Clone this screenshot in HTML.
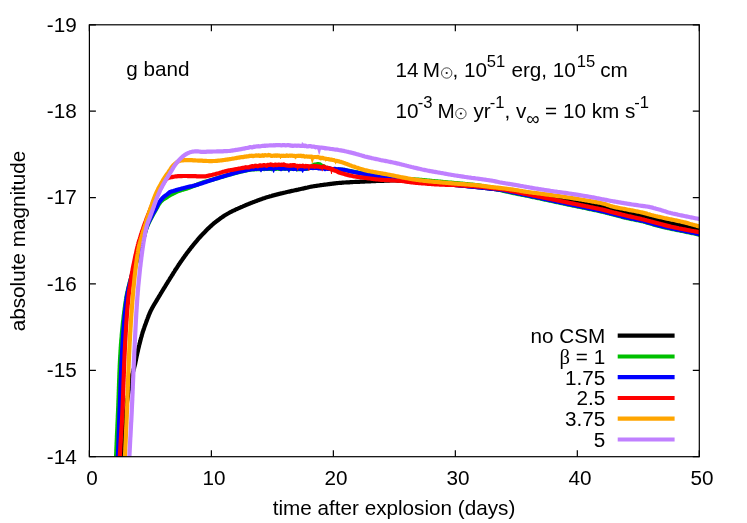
<!DOCTYPE html>
<html><head><meta charset="utf-8"><title>g band light curves</title>
<style>
html,body{margin:0;padding:0;background:#fff;}
body{width:747px;height:523px;overflow:hidden;font-family:"Liberation Sans",sans-serif;}
svg{display:block;will-change:transform;}
</style></head><body>
<svg width="747" height="523" viewBox="0 0 747 523">
<defs><clipPath id="c"><rect x="89.4" y="24.8" width="609.9" height="431.9"/></clipPath></defs>
<rect width="747" height="523" fill="#fff"/>
<g clip-path="url(#c)" fill="none" stroke-width="4.2" stroke-linejoin="round" stroke-linecap="butt">
<path d="M120.4,470.0 L120.5,469.0 L120.6,468.0 L120.7,467.0 L120.8,466.0 L120.9,465.0 L121.1,464.0 L121.2,463.0 L121.3,462.0 L121.4,461.0 L121.5,460.0 L121.6,459.1 L121.7,458.1 L121.8,457.1 L121.9,456.1 L122.0,455.1 L122.1,454.1 L122.2,453.1 L122.3,452.1 L122.4,451.1 L122.5,450.1 L122.6,449.1 L122.7,448.1 L122.8,447.1 L122.9,446.1 L123.0,445.1 L123.1,444.1 L123.2,443.1 L123.3,442.1 L123.4,441.1 L123.4,440.1 L123.5,439.1 L123.6,438.1 L123.7,437.1 L123.8,436.1 L123.9,435.1 L124.0,434.1 L124.1,433.1 L124.2,432.1 L124.3,431.2 L124.4,430.2 L124.5,429.2 L124.6,428.2 L124.7,427.2 L124.8,426.2 L124.9,425.2 L125.0,424.2 L125.0,423.2 L125.1,422.2 L125.2,421.2 L125.3,420.2 L125.4,419.2 L125.5,418.2 L125.6,417.2 L125.6,416.2 L125.7,415.2 L125.8,414.2 L125.9,413.2 L126.0,412.2 L126.1,411.2 L126.2,410.2 L126.3,409.2 L126.4,408.2 L126.5,407.2 L126.6,406.2 L126.7,405.2 L126.8,404.2 L126.9,403.2 L127.0,402.2 L127.1,401.2 L127.3,400.3 L127.4,399.3 L127.5,398.3 L127.7,397.3 L127.8,396.3 L128.0,395.3 L128.1,394.3 L128.3,393.3 L128.5,392.3 L128.6,391.4 L128.8,390.4 L129.0,389.4 L129.2,388.4 L129.4,387.4 L129.6,386.4 L129.8,385.4 L130.0,384.5 L130.2,383.5 L130.4,382.5 L130.6,381.5 L130.8,380.5 L131.0,379.6 L131.2,378.6 L131.5,377.6 L131.7,376.6 L131.9,375.7 L132.2,374.7 L132.4,373.7 L132.7,372.8 L133.0,371.8 L133.3,370.8 L133.5,369.9 L133.8,368.9 L134.1,368.0 L134.3,367.0 L134.6,366.0 L134.8,365.0 L135.1,364.1 L135.3,363.1 L135.5,362.1 L135.7,361.1 L135.9,360.2 L136.1,359.2 L136.3,358.2 L136.5,357.2 L136.7,356.2 L136.9,355.3 L137.1,354.3 L137.3,353.3 L137.5,352.3 L137.8,351.3 L138.0,350.4 L138.2,349.4 L138.4,348.4 L138.7,347.4 L138.9,346.5 L139.1,345.5 L139.4,344.5 L139.6,343.5 L139.9,342.6 L140.1,341.6 L140.4,340.6 L140.6,339.7 L140.9,338.7 L141.1,337.7 L141.4,336.8 L141.7,335.8 L141.9,334.8 L142.2,333.9 L142.5,332.9 L142.8,332.0 L143.1,331.0 L143.4,330.1 L143.8,329.1 L144.1,328.2 L144.4,327.2 L144.7,326.3 L145.1,325.3 L145.4,324.4 L145.8,323.5 L146.1,322.5 L146.4,321.6 L146.8,320.6 L147.1,319.7 L147.5,318.7 L147.8,317.8 L148.2,316.9 L148.6,315.9 L148.9,315.0 L149.3,314.1 L149.7,313.2 L150.1,312.2 L150.5,311.3 L150.9,310.4 L151.4,309.5 L151.8,308.7 L152.3,307.8 L152.8,306.9 L153.3,306.0 L153.8,305.2 L154.3,304.3 L154.8,303.4 L155.4,302.6 L155.9,301.7 L156.4,300.9 L156.9,300.0 L157.4,299.1 L157.9,298.3 L158.4,297.4 L159.0,296.6 L159.5,295.7 L160.0,294.8 L160.5,294.0 L161.0,293.1 L161.5,292.3 L162.0,291.4 L162.6,290.6 L163.1,289.7 L163.6,288.8 L164.1,288.0 L164.7,287.1 L165.2,286.3 L165.7,285.4 L166.2,284.6 L166.7,283.7 L167.3,282.9 L167.8,282.0 L168.3,281.2 L168.9,280.3 L169.4,279.5 L169.9,278.6 L170.4,277.8 L171.0,276.9 L171.5,276.1 L172.0,275.2 L172.6,274.4 L173.1,273.5 L173.6,272.7 L174.2,271.8 L174.7,271.0 L175.2,270.1 L175.8,269.3 L176.3,268.5 L176.9,267.6 L177.4,266.8 L178.0,265.9 L178.5,265.1 L179.1,264.3 L179.6,263.5 L180.2,262.6 L180.8,261.8 L181.3,261.0 L181.9,260.2 L182.5,259.3 L183.1,258.5 L183.6,257.7 L184.2,256.9 L184.8,256.1 L185.4,255.2 L186.0,254.4 L186.6,253.6 L187.2,252.8 L187.8,252.0 L188.4,251.2 L189.0,250.4 L189.6,249.7 L190.2,248.9 L190.8,248.1 L191.4,247.3 L192.1,246.5 L192.7,245.7 L193.3,244.9 L194.0,244.1 L194.6,243.4 L195.2,242.6 L195.9,241.8 L196.5,241.1 L197.2,240.3 L197.8,239.5 L198.5,238.8 L199.1,238.0 L199.8,237.3 L200.5,236.5 L201.1,235.8 L201.8,235.1 L202.5,234.4 L203.2,233.6 L203.9,232.9 L204.6,232.2 L205.3,231.5 L206.0,230.7 L206.7,230.0 L207.4,229.3 L208.1,228.6 L208.9,227.9 L209.6,227.2 L210.3,226.5 L211.1,225.9 L211.8,225.2 L212.6,224.5 L213.3,223.9 L214.1,223.2 L214.8,222.6 L215.6,222.0 L216.4,221.4 L217.2,220.8 L218.0,220.2 L218.8,219.6 L219.6,219.0 L220.4,218.4 L221.2,217.8 L222.1,217.2 L222.9,216.6 L223.7,216.1 L224.6,215.5 L225.4,215.0 L226.3,214.5 L227.1,214.0 L228.0,213.5 L228.9,213.0 L229.7,212.5 L230.6,212.0 L231.5,211.6 L232.4,211.1 L233.3,210.7 L234.2,210.3 L235.1,209.8 L236.0,209.4 L236.9,209.0 L237.9,208.6 L238.8,208.2 L239.7,207.8 L240.6,207.4 L241.5,207.0 L242.5,206.6 L243.4,206.2 L244.3,205.8 L245.2,205.4 L246.1,205.0 L247.1,204.6 L248.0,204.3 L248.9,203.9 L249.8,203.5 L250.8,203.1 L251.7,202.8 L252.6,202.4 L253.6,202.0 L254.5,201.7 L255.4,201.3 L256.4,201.0 L257.3,200.6 L258.3,200.3 L259.2,199.9 L260.1,199.6 L261.1,199.2 L262.0,198.9 L263.0,198.5 L263.9,198.2 L264.9,197.9 L265.8,197.6 L266.8,197.3 L267.7,197.0 L268.7,196.7 L269.6,196.4 L270.6,196.2 L271.6,195.9 L272.5,195.6 L273.5,195.4 L274.5,195.1 L275.4,194.9 L276.4,194.6 L277.4,194.4 L278.3,194.1 L279.3,193.9 L280.3,193.6 L281.3,193.4 L282.2,193.2 L283.2,192.9 L284.2,192.7 L285.2,192.5 L286.1,192.2 L287.1,192.0 L288.1,191.8 L289.1,191.6 L290.0,191.4 L291.0,191.1 L292.0,190.9 L293.0,190.7 L294.0,190.5 L294.9,190.3 L295.9,190.1 L296.9,189.9 L297.9,189.7 L298.8,189.4 L299.8,189.2 L300.8,189.0 L301.8,188.8 L302.8,188.6 L303.7,188.4 L304.7,188.1 L305.7,187.9 L306.7,187.7 L307.6,187.5 L308.6,187.2 L309.6,187.0 L310.6,186.8 L311.6,186.6 L312.5,186.5 L313.5,186.3 L314.5,186.1 L315.5,186.0 L316.5,185.8 L317.5,185.7 L318.5,185.5 L319.5,185.4 L320.4,185.2 L321.4,185.1 L322.4,185.0 L323.4,184.8 L324.4,184.7 L325.4,184.6 L326.4,184.5 L327.4,184.3 L328.4,184.2 L329.4,184.1 L330.4,183.9 L331.4,183.8 L332.4,183.7 L333.4,183.6 L334.4,183.4 L335.4,183.3 L336.3,183.2 L337.3,183.1 L338.3,183.0 L339.3,182.9 L340.3,182.8 L341.3,182.8 L342.3,182.7 L343.3,182.6 L344.3,182.5 L345.3,182.5 L346.3,182.4 L347.3,182.4 L348.3,182.3 L349.3,182.3 L350.3,182.2 L351.3,182.1 L352.3,182.1 L353.3,182.0 L354.3,182.0 L355.3,181.9 L356.3,181.9 L357.3,181.9 L358.3,181.8 L359.3,181.8 L360.3,181.7 L361.3,181.7 L362.3,181.6 L363.3,181.6 L364.3,181.6 L365.3,181.5 L366.3,181.5 L367.3,181.4 L368.3,181.4 L369.3,181.3 L370.3,181.3 L371.3,181.2 L372.3,181.2 L373.3,181.2 L374.3,181.1 L375.3,181.1 L376.3,181.0 L377.3,181.0 L378.3,180.9 L379.3,180.9 L380.3,180.9 L381.3,180.8 L382.3,180.8 L383.3,180.8 L384.3,180.7 L385.3,180.7 L386.3,180.7 L387.3,180.6 L388.3,180.6 L389.3,180.6 L390.3,180.5 L391.3,180.5 L392.3,180.5 L393.3,180.5 L394.3,180.5 L395.3,180.5 L396.3,180.5 L397.3,180.6 L398.3,180.6 L399.3,180.7 L400.3,180.7 L401.3,180.8 L402.3,180.9 L403.3,180.9 L404.3,181.0 L405.3,181.1 L406.3,181.1 L407.3,181.2 L408.3,181.3 L409.3,181.4 L410.3,181.4 L411.3,181.5 L412.3,181.5 L413.3,181.6 L414.3,181.7 L415.3,181.7 L416.3,181.8 L417.3,181.9 L418.3,181.9 L419.3,182.0 L420.3,182.1 L421.3,182.2 L422.3,182.2 L423.3,182.3 L424.3,182.4 L425.3,182.5 L426.3,182.5 L427.3,182.6 L428.3,182.7 L429.3,182.8 L430.3,182.8 L431.3,182.9 L432.3,183.0 L433.3,183.1 L434.3,183.2 L435.3,183.2 L436.3,183.3 L437.3,183.4 L438.3,183.5 L439.3,183.6 L440.3,183.7 L441.3,183.8 L442.3,183.8 L443.3,183.9 L444.3,184.0 L445.3,184.1 L446.3,184.2 L447.3,184.3 L448.3,184.4 L449.3,184.5 L450.3,184.5 L451.2,184.6 L452.2,184.7 L453.2,184.8 L454.2,184.9 L455.2,185.0 L456.2,185.1 L457.2,185.2 L458.2,185.2 L459.2,185.3 L460.2,185.4 L461.2,185.5 L462.2,185.6 L463.2,185.7 L464.2,185.8 L465.2,185.9 L466.2,186.0 L467.2,186.1 L468.2,186.2 L469.2,186.3 L470.2,186.4 L471.2,186.5 L472.2,186.6 L473.2,186.7 L474.2,186.8 L475.2,186.9 L476.2,187.0 L477.2,187.1 L478.2,187.2 L479.2,187.3 L480.1,187.4 L481.1,187.5 L482.1,187.6 L483.1,187.8 L484.1,187.9 L485.1,188.0 L486.1,188.1 L487.1,188.2 L488.1,188.3 L489.1,188.4 L490.1,188.6 L491.1,188.7 L492.1,188.8 L493.1,188.9 L494.1,189.0 L495.1,189.1 L496.1,189.2 L497.1,189.4 L498.0,189.5 L499.0,189.6 L500.0,189.7 L501.0,189.8 L502.0,190.0 L503.0,190.1 L504.0,190.2 L505.0,190.3 L506.0,190.4 L507.0,190.6 L508.0,190.7 L509.0,190.8 L510.0,190.9 L511.0,191.1 L512.0,191.2 L513.0,191.3 L513.9,191.4 L514.9,191.6 L515.9,191.7 L516.9,191.8 L517.9,192.0 L518.9,192.1 L519.9,192.2 L520.9,192.4 L521.9,192.5 L522.9,192.6 L523.9,192.8 L524.9,192.9 L525.9,193.0 L526.8,193.2 L527.8,193.3 L528.8,193.5 L529.8,193.6 L530.8,193.7 L531.8,193.9 L532.8,194.0 L533.8,194.1 L534.8,194.3 L535.8,194.4 L536.8,194.6 L537.8,194.7 L538.7,194.8 L539.7,195.0 L540.7,195.1 L541.7,195.3 L542.7,195.4 L543.7,195.5 L544.7,195.7 L545.7,195.8 L546.7,196.0 L547.7,196.1 L548.6,196.3 L549.6,196.4 L550.6,196.6 L551.6,196.7 L552.6,196.9 L553.6,197.0 L554.6,197.2 L555.6,197.4 L556.6,197.5 L557.6,197.7 L558.5,197.8 L559.5,198.0 L560.5,198.1 L561.5,198.3 L562.5,198.5 L563.5,198.6 L564.5,198.8 L565.5,199.0 L566.4,199.1 L567.4,199.3 L568.4,199.5 L569.4,199.7 L570.4,199.8 L571.4,200.0 L572.4,200.2 L573.3,200.4 L574.3,200.6 L575.3,200.8 L576.3,200.9 L577.3,201.1 L578.3,201.3 L579.2,201.5 L580.2,201.7 L581.2,201.9 L582.2,202.1 L583.2,202.3 L584.1,202.5 L585.1,202.7 L586.1,202.9 L587.1,203.1 L588.1,203.3 L589.0,203.5 L590.0,203.7 L591.0,204.0 L592.0,204.2 L593.0,204.4 L593.9,204.6 L594.9,204.8 L595.9,205.0 L596.9,205.2 L597.8,205.4 L598.8,205.7 L599.8,205.9 L600.8,206.1 L601.7,206.3 L602.7,206.6 L603.7,206.8 L604.7,207.1 L605.6,207.3 L606.6,207.5 L607.6,207.8 L608.6,208.0 L609.5,208.3 L610.5,208.5 L611.5,208.8 L612.4,209.0 L613.4,209.3 L614.4,209.5 L615.3,209.8 L616.3,210.0 L617.3,210.3 L618.2,210.5 L619.2,210.8 L620.2,211.1 L621.1,211.3 L622.1,211.6 L623.1,211.8 L624.1,212.1 L625.0,212.3 L626.0,212.6 L627.0,212.8 L627.9,213.0 L628.9,213.3 L629.9,213.5 L630.9,213.7 L631.9,213.9 L632.8,214.1 L633.8,214.3 L634.8,214.4 L635.8,214.6 L636.8,214.8 L637.8,215.0 L638.7,215.2 L639.7,215.4 L640.7,215.6 L641.7,215.8 L642.7,216.0 L643.6,216.3 L644.6,216.5 L645.6,216.8 L646.5,217.0 L647.5,217.3 L648.5,217.6 L649.4,217.8 L650.4,218.1 L651.4,218.4 L652.3,218.7 L653.3,218.9 L654.2,219.2 L655.2,219.4 L656.2,219.7 L657.2,219.9 L658.1,220.2 L659.1,220.4 L660.1,220.6 L661.0,220.9 L662.0,221.1 L663.0,221.3 L664.0,221.6 L664.9,221.8 L665.9,222.0 L666.9,222.3 L667.9,222.5 L668.8,222.7 L669.8,222.9 L670.8,223.2 L671.8,223.4 L672.8,223.6 L673.7,223.8 L674.7,224.0 L675.7,224.2 L676.7,224.4 L677.6,224.6 L678.6,224.8 L679.6,225.0 L680.6,225.3 L681.6,225.5 L682.5,225.7 L683.5,225.9 L684.5,226.1 L685.5,226.4 L686.4,226.6 L687.4,226.8 L688.4,227.1 L689.4,227.3 L690.3,227.5 L691.3,227.8 L692.3,228.0 L693.2,228.3 L694.2,228.5 L695.2,228.7 L696.2,229.0 L697.1,229.2 L698.1,229.5 L699.1,229.7 L700.1,229.9 L701.0,230.2 L702.0,230.4" stroke="#000000"/>
<path d="M115.6,470.0 L115.6,469.0 L115.7,468.0 L115.7,467.0 L115.7,466.0 L115.8,465.0 L115.8,464.0 L115.8,463.0 L115.9,462.0 L115.9,461.0 L115.9,460.0 L116.0,459.0 L116.0,458.0 L116.1,457.0 L116.1,456.0 L116.1,455.0 L116.2,454.0 L116.2,453.0 L116.3,452.0 L116.3,451.0 L116.3,450.0 L116.4,449.0 L116.4,448.0 L116.5,447.0 L116.5,446.0 L116.6,445.0 L116.6,444.0 L116.6,443.0 L116.7,442.0 L116.7,441.0 L116.8,440.0 L116.8,439.0 L116.9,438.0 L116.9,437.0 L116.9,436.0 L117.0,435.0 L117.0,434.0 L117.1,433.0 L117.1,432.0 L117.2,431.0 L117.2,430.0 L117.3,429.0 L117.3,428.0 L117.4,427.0 L117.4,426.0 L117.4,425.0 L117.5,424.0 L117.5,423.0 L117.6,422.0 L117.6,421.0 L117.7,420.0 L117.7,419.0 L117.8,418.0 L117.8,417.0 L117.8,416.0 L117.9,415.0 L117.9,414.0 L118.0,413.0 L118.0,412.0 L118.1,411.0 L118.1,410.0 L118.1,409.0 L118.2,408.0 L118.2,407.0 L118.3,406.0 L118.3,405.0 L118.3,404.0 L118.4,403.0 L118.4,402.0 L118.4,401.0 L118.5,400.0 L118.5,399.0 L118.6,398.0 L118.6,397.0 L118.6,396.0 L118.7,395.0 L118.7,394.0 L118.7,393.0 L118.8,392.0 L118.8,391.0 L118.8,390.0 L118.9,389.0 L118.9,388.0 L118.9,387.0 L119.0,386.0 L119.0,385.0 L119.0,384.0 L119.1,383.0 L119.1,382.0 L119.1,381.0 L119.2,380.0 L119.2,379.0 L119.3,378.0 L119.3,377.0 L119.3,376.0 L119.4,375.0 L119.4,374.0 L119.4,373.0 L119.5,372.0 L119.5,371.0 L119.6,370.0 L119.6,369.0 L119.7,368.0 L119.7,367.0 L119.7,366.0 L119.8,365.0 L119.8,364.0 L119.9,363.0 L119.9,362.0 L120.0,361.0 L120.0,360.0 L120.1,359.0 L120.1,358.0 L120.2,357.0 L120.2,356.0 L120.3,355.0 L120.4,354.0 L120.4,353.0 L120.5,352.0 L120.5,351.0 L120.6,350.0 L120.7,349.0 L120.7,348.0 L120.8,347.0 L120.9,346.0 L120.9,345.0 L121.0,344.0 L121.1,343.0 L121.2,342.0 L121.2,341.0 L121.3,340.0 L121.4,339.1 L121.5,338.1 L121.6,337.1 L121.7,336.1 L121.7,335.1 L121.8,334.1 L121.9,333.1 L122.0,332.1 L122.1,331.1 L122.2,330.1 L122.3,329.1 L122.4,328.1 L122.5,327.1 L122.6,326.1 L122.7,325.1 L122.8,324.1 L122.9,323.1 L123.0,322.1 L123.1,321.1 L123.3,320.1 L123.4,319.1 L123.5,318.1 L123.6,317.1 L123.7,316.1 L123.8,315.1 L124.0,314.1 L124.1,313.1 L124.2,312.1 L124.3,311.1 L124.5,310.2 L124.6,309.2 L124.7,308.2 L124.9,307.2 L125.0,306.2 L125.1,305.2 L125.3,304.2 L125.4,303.2 L125.6,302.3 L125.7,301.3 L125.9,300.3 L126.0,299.3 L126.2,298.3 L126.3,297.3 L126.5,296.4 L126.7,295.4 L126.9,294.4 L127.1,293.4 L127.3,292.4 L127.5,291.5 L127.8,290.5 L128.0,289.5 L128.2,288.5 L128.5,287.6 L128.7,286.6 L129.0,285.6 L129.2,284.6 L129.5,283.7 L129.7,282.7 L130.0,281.7 L130.3,280.8 L130.5,279.8 L130.8,278.8 L131.1,277.9 L131.4,276.9 L131.6,275.9 L131.9,275.0 L132.2,274.0 L132.5,273.1 L132.8,272.1 L133.1,271.2 L133.4,270.2 L133.7,269.3 L134.0,268.3 L134.4,267.4 L134.7,266.4 L135.1,265.5 L135.4,264.6 L135.8,263.6 L136.1,262.7 L136.5,261.8 L136.8,260.8 L137.2,259.9 L137.5,258.9 L137.9,258.0 L138.2,257.1 L138.5,256.1 L138.9,255.2 L139.2,254.2 L139.5,253.3 L139.9,252.3 L140.2,251.4 L140.5,250.4 L140.8,249.5 L141.0,248.5 L141.3,247.5 L141.6,246.6 L141.8,245.6 L142.1,244.6 L142.3,243.7 L142.6,242.7 L142.8,241.7 L143.1,240.7 L143.3,239.8 L143.5,238.8 L143.8,237.8 L144.0,236.8 L144.3,235.9 L144.5,234.9 L144.8,233.9 L145.1,233.0 L145.3,232.0 L145.6,231.0 L145.9,230.1 L146.2,229.2 L146.5,228.2 L146.9,227.3 L147.2,226.4 L147.6,225.4 L148.0,224.5 L148.4,223.6 L148.8,222.7 L149.3,221.8 L149.7,220.9 L150.2,220.0 L150.7,219.1 L151.1,218.2 L151.6,217.4 L152.1,216.5 L152.6,215.6 L153.0,214.7 L153.5,213.8 L154.0,212.9 L154.5,212.1 L155.0,211.2 L155.5,210.3 L156.0,209.5 L156.5,208.6 L157.0,207.7 L157.5,206.8 L157.9,206.0 L158.4,205.1 L158.9,204.2 L159.5,203.4 L160.1,202.6 L160.7,201.8 L161.4,201.1 L162.1,200.4 L162.8,199.7 L163.7,199.1 L164.5,198.6 L165.4,198.1 L166.2,197.6 L167.1,197.1 L167.9,196.5 L168.8,196.0 L169.6,195.4 L170.5,194.9 L171.4,194.5 L172.3,194.0 L173.2,193.6 L174.1,193.2 L175.0,192.7 L175.8,192.2 L176.7,191.8 L177.6,191.3 L178.6,191.0 L179.5,190.7 L180.5,190.4 L181.4,190.1 L182.4,189.8 L183.4,189.6 L184.3,189.3 L185.3,189.0 L186.2,188.7 L187.2,188.4 L188.1,188.1 L189.1,187.7 L190.0,187.4 L191.0,187.0 L191.9,186.7 L192.8,186.3 L193.8,186.0 L194.7,185.6 L195.6,185.3 L196.6,184.9 L197.5,184.5 L198.4,184.1 L199.4,183.8 L200.3,183.4 L201.2,183.1 L202.2,182.7 L203.1,182.4 L204.1,182.1 L205.0,181.8 L206.0,181.5 L206.9,181.2 L207.9,181.0 L208.9,180.7 L209.8,180.4 L210.8,180.1 L211.7,179.9 L212.7,179.6 L213.7,179.3 L214.6,179.0 L215.6,178.7 L216.5,178.4 L217.5,178.1 L218.5,177.9 L219.4,177.6 L220.4,177.3 L221.3,177.0 L222.3,176.7 L223.3,176.4 L224.2,176.2 L225.2,175.9 L226.1,175.6 L227.1,175.3 L228.1,175.1 L229.0,174.8 L230.0,174.5 L231.0,174.2 L231.9,173.9 L232.9,173.7 L233.8,173.4 L234.8,173.1 L235.8,172.9 L236.7,172.6 L237.7,172.4 L238.7,172.1 L239.7,171.9 L240.6,171.7 L241.6,171.5 L242.6,171.3 L243.6,171.0 L244.6,170.8 L245.5,170.6 L246.5,170.4 L247.5,170.2 L248.5,170.0 L249.5,169.8 L250.5,169.7 L251.5,169.5 L252.4,169.4 L253.4,169.3 L254.4,169.4 L255.4,169.1 L256.4,169.3 L257.4,169.1 L258.4,169.2 L259.4,169.1 L260.4,169.2 L261.4,168.8 L262.4,168.9 L263.4,168.9 L264.4,169.1 L265.4,168.7 L266.4,168.9 L267.4,168.7 L268.4,168.9 L269.4,169.0 L270.4,168.7 L271.4,169.1 L272.4,169.0 L273.4,168.9 L274.4,169.0 L275.4,168.7 L276.4,168.8 L277.4,168.6 L278.4,168.7 L279.4,168.9 L280.4,168.7 L281.4,168.7 L282.4,168.7 L283.4,168.6 L284.4,168.7 L285.4,168.8 L286.4,168.6 L287.4,168.8 L288.4,169.1 L289.4,168.9 L290.4,168.8 L291.4,168.7 L292.4,168.7 L293.4,169.1 L294.4,168.8 L295.4,168.7 L296.4,168.9 L297.4,169.3 L298.4,169.0 L299.4,169.1 L300.4,169.1 L301.5,168.9 L302.5,168.7 L303.5,168.8 L304.5,168.8 L305.5,168.9 L306.5,168.8 L307.4,168.7 L308.3,168.2 L309.2,167.8 L310.1,166.9 L310.9,166.8 L311.8,166.1 L312.7,165.4 L313.5,165.1 L314.4,164.6 L315.4,164.5 L316.4,164.4 L317.4,164.5 L318.4,164.0 L319.4,164.2 L320.3,164.7 L321.2,165.3 L322.1,165.8 L323.0,166.2 L323.9,166.3 L324.7,167.1 L325.6,167.7 L326.6,168.0 L327.5,168.5 L328.4,168.6 L329.4,168.8 L330.4,169.1 L331.4,169.2 L332.4,169.3 L333.4,169.3 L334.4,169.3 L335.4,169.4 L336.4,169.4 L337.4,169.5 L338.4,169.5 L339.4,169.5 L340.4,169.5 L341.4,169.5 L342.4,169.7 L343.4,169.8 L344.4,169.9 L345.3,170.1 L346.3,170.3 L347.3,170.5 L348.3,170.7 L349.3,170.9 L350.3,171.1 L351.3,171.3 L352.2,171.5 L353.2,171.7 L354.2,171.8 L355.2,172.0 L356.2,172.2 L357.2,172.4 L358.1,172.6 L359.1,172.8 L360.1,173.0 L361.1,173.2 L362.1,173.4 L363.0,173.6 L364.0,173.8 L365.0,173.9 L366.0,174.1 L367.0,174.3 L368.0,174.5 L368.9,174.7 L369.9,174.9 L370.9,175.0 L371.9,175.2 L372.9,175.4 L373.9,175.6 L374.9,175.7 L375.8,175.9 L376.8,176.1 L377.8,176.2 L378.8,176.4 L379.8,176.5 L380.8,176.7 L381.8,176.8 L382.8,177.0 L383.8,177.1 L384.7,177.3 L385.7,177.4 L386.7,177.5 L387.7,177.7 L388.7,177.8 L389.7,177.9 L390.7,178.0 L391.7,178.1 L392.7,178.2 L393.7,178.3 L394.7,178.4 L395.7,178.4 L396.7,178.5 L397.7,178.5 L398.7,178.5 L399.7,178.6 L400.7,178.6 L401.7,178.7 L402.7,178.7 L403.7,178.8 L404.7,178.8 L405.7,178.9 L406.7,178.9 L407.7,179.0 L408.7,179.0 L409.7,179.1 L410.7,179.1 L411.7,179.2 L412.7,179.3 L413.7,179.3 L414.7,179.4 L415.7,179.5 L416.7,179.5 L417.7,179.6 L418.7,179.7 L419.7,179.8 L420.7,179.9 L421.7,179.9 L422.6,180.0 L423.6,180.1 L424.6,180.2 L425.6,180.3 L426.6,180.4 L427.6,180.5 L428.6,180.6 L429.6,180.7 L430.6,180.8 L431.6,180.9 L432.6,181.0 L433.6,181.1 L434.6,181.2 L435.6,181.3 L436.6,181.4 L437.6,181.4 L438.6,181.5 L439.6,181.6 L440.6,181.7 L441.6,181.8 L442.6,181.9 L443.6,182.0 L444.6,182.1 L445.6,182.2 L446.6,182.3 L447.6,182.4 L448.6,182.5 L449.5,182.5 L450.5,182.6 L451.5,182.7 L452.5,182.8 L453.5,182.9 L454.5,183.0 L455.5,183.1 L456.5,183.2 L457.5,183.2 L458.5,183.3 L459.5,183.4 L460.5,183.5 L461.5,183.6 L462.5,183.7 L463.5,183.8 L464.5,183.9 L465.5,184.0 L466.5,184.1 L467.5,184.2 L468.5,184.3 L469.5,184.4 L470.5,184.5 L471.5,184.6 L472.5,184.7 L473.5,184.8 L474.5,184.9 L475.4,185.0 L476.4,185.2 L477.4,185.3 L478.4,185.4 L479.4,185.6 L480.4,185.7 L481.4,185.9 L482.4,186.0 L483.4,186.2 L484.3,186.4 L485.3,186.6 L486.3,186.8 L487.3,187.0 L488.3,187.2 L489.2,187.4 L490.2,187.6 L491.2,187.9 L492.2,188.1 L493.1,188.3 L494.1,188.6 L495.1,188.8 L496.1,189.0 L497.0,189.3 L498.0,189.5 L499.0,189.8 L499.9,190.0 L500.9,190.2 L501.9,190.4 L502.9,190.7 L503.8,190.9 L504.8,191.1 L505.8,191.4 L506.8,191.6 L507.7,191.8 L508.7,192.0 L509.7,192.3 L510.7,192.5 L511.6,192.7 L512.6,192.9 L513.6,193.1 L514.6,193.3 L515.6,193.5 L516.5,193.7 L517.5,193.9 L518.5,194.1 L519.5,194.3 L520.5,194.5 L521.4,194.7 L522.4,194.9 L523.4,195.0 L524.4,195.2 L525.4,195.4 L526.4,195.6 L527.3,195.8 L528.3,196.0 L529.3,196.2 L530.3,196.4 L531.3,196.7 L532.2,196.9 L533.2,197.1 L534.2,197.3 L535.2,197.5 L536.1,197.7 L537.1,197.9 L538.1,198.1 L539.1,198.3 L540.1,198.5 L541.0,198.7 L542.0,199.0 L543.0,199.2 L544.0,199.4 L545.0,199.6 L545.9,199.8 L546.9,200.0 L547.9,200.2 L548.9,200.4 L549.8,200.6 L550.8,200.8 L551.8,201.0 L552.8,201.3 L553.8,201.5 L554.7,201.7 L555.7,201.9 L556.7,202.1 L557.7,202.3 L558.7,202.5 L559.6,202.7 L560.6,202.9 L561.6,203.1 L562.6,203.3 L563.5,203.6 L564.5,203.8 L565.5,204.0 L566.5,204.2 L567.5,204.4 L568.4,204.6 L569.4,204.8 L570.4,205.0 L571.4,205.2 L572.4,205.4 L573.3,205.6 L574.3,205.8 L575.3,206.0 L576.3,206.2 L577.3,206.4 L578.2,206.6 L579.2,206.8 L580.2,207.0 L581.2,207.2 L582.2,207.4 L583.1,207.6 L584.1,207.8 L585.1,208.0 L586.1,208.2 L587.1,208.4 L588.0,208.7 L589.0,208.9 L590.0,209.1 L591.0,209.3 L591.9,209.5 L592.9,209.7 L593.9,209.9 L594.9,210.1 L595.9,210.3 L596.8,210.5 L597.8,210.7 L598.8,210.9 L599.8,211.1 L600.7,211.4 L601.7,211.6 L602.7,211.8 L603.7,212.1 L604.6,212.3 L605.6,212.6 L606.6,212.8 L607.5,213.1 L608.5,213.3 L609.5,213.6 L610.4,213.8 L611.4,214.1 L612.4,214.3 L613.4,214.6 L614.3,214.8 L615.3,215.1 L616.3,215.3 L617.2,215.6 L618.2,215.8 L619.2,216.1 L620.1,216.3 L621.1,216.6 L622.1,216.9 L623.0,217.1 L624.0,217.4 L625.0,217.6 L626.0,217.8 L626.9,218.1 L627.9,218.3 L628.9,218.5 L629.8,218.7 L630.8,218.9 L631.8,219.1 L632.8,219.3 L633.8,219.5 L634.8,219.7 L635.7,219.9 L636.7,220.1 L637.7,220.3 L638.7,220.5 L639.7,220.7 L640.6,220.9 L641.6,221.1 L642.6,221.3 L643.6,221.6 L644.5,221.8 L645.5,222.1 L646.4,222.4 L647.4,222.7 L648.4,223.0 L649.3,223.2 L650.3,223.5 L651.2,223.8 L652.2,224.1 L653.2,224.4 L654.1,224.7 L655.1,224.9 L656.1,225.2 L657.0,225.5 L658.0,225.7 L659.0,226.0 L659.9,226.2 L660.9,226.4 L661.9,226.7 L662.8,226.9 L663.8,227.2 L664.8,227.4 L665.8,227.6 L666.7,227.8 L667.7,228.1 L668.7,228.3 L669.7,228.5 L670.6,228.7 L671.6,228.9 L672.6,229.1 L673.6,229.3 L674.6,229.5 L675.5,229.7 L676.5,229.9 L677.5,230.1 L678.5,230.3 L679.5,230.5 L680.5,230.7 L681.4,230.9 L682.4,231.0 L683.4,231.2 L684.4,231.4 L685.4,231.6 L686.3,231.9 L687.3,232.1 L688.3,232.3 L689.3,232.5 L690.3,232.7 L691.2,232.9 L692.2,233.1 L693.2,233.3 L694.2,233.5 L695.2,233.7 L696.1,233.9 L697.1,234.1 L698.1,234.4 L699.1,234.6 L700.0,234.8 L701.0,235.0 L702.0,235.2" stroke="#00c000"/>
<path d="M117.3,470.0 L117.3,469.0 L117.4,468.0 L117.4,467.0 L117.5,466.0 L117.5,465.0 L117.6,464.0 L117.6,463.0 L117.6,462.0 L117.7,461.0 L117.7,460.0 L117.8,459.0 L117.8,458.0 L117.9,457.0 L117.9,456.0 L117.9,455.0 L118.0,454.0 L118.0,453.0 L118.1,452.0 L118.1,451.0 L118.1,450.0 L118.2,449.0 L118.2,448.0 L118.2,447.0 L118.3,446.0 L118.3,445.0 L118.4,444.0 L118.4,443.0 L118.4,442.0 L118.5,441.0 L118.5,440.0 L118.5,439.0 L118.6,438.0 L118.6,437.0 L118.6,436.0 L118.7,435.0 L118.7,434.0 L118.8,433.0 L118.8,432.0 L118.8,431.0 L118.9,430.0 L118.9,429.0 L118.9,428.0 L119.0,427.0 L119.0,426.0 L119.0,425.0 L119.1,424.0 L119.1,423.0 L119.1,422.0 L119.2,421.0 L119.2,420.0 L119.3,419.0 L119.3,418.0 L119.3,417.0 L119.4,416.0 L119.4,415.0 L119.4,414.0 L119.5,413.0 L119.5,412.0 L119.6,411.0 L119.6,410.0 L119.6,409.0 L119.7,408.0 L119.7,407.0 L119.8,406.0 L119.8,405.0 L119.8,404.0 L119.9,403.0 L119.9,402.0 L119.9,401.0 L120.0,400.0 L120.0,399.0 L120.1,398.0 L120.1,397.0 L120.1,396.0 L120.2,395.0 L120.2,394.0 L120.2,393.0 L120.3,392.0 L120.3,391.0 L120.4,390.0 L120.4,389.0 L120.4,388.0 L120.5,387.0 L120.5,386.0 L120.5,385.0 L120.6,384.0 L120.6,383.0 L120.7,382.0 L120.7,381.0 L120.7,380.0 L120.8,379.0 L120.8,378.0 L120.9,377.0 L120.9,376.0 L120.9,375.0 L121.0,374.0 L121.0,373.0 L121.1,372.0 L121.1,371.0 L121.2,370.0 L121.2,369.0 L121.2,368.0 L121.3,367.0 L121.3,366.0 L121.4,365.0 L121.4,364.0 L121.5,363.0 L121.5,362.0 L121.6,361.0 L121.6,360.0 L121.7,359.0 L121.7,358.0 L121.8,357.0 L121.8,356.0 L121.9,355.0 L122.0,354.0 L122.0,353.0 L122.1,352.0 L122.1,351.0 L122.2,350.0 L122.2,349.0 L122.3,348.0 L122.4,347.0 L122.4,346.0 L122.5,345.0 L122.5,344.0 L122.6,343.0 L122.7,342.0 L122.7,341.0 L122.8,340.0 L122.8,339.0 L122.9,338.0 L123.0,337.0 L123.0,336.0 L123.1,335.0 L123.2,334.0 L123.3,333.0 L123.3,332.0 L123.4,331.0 L123.5,330.0 L123.5,329.0 L123.6,328.0 L123.7,327.0 L123.8,326.0 L123.9,325.0 L123.9,324.0 L124.0,323.0 L124.1,322.0 L124.2,321.0 L124.3,320.0 L124.4,319.0 L124.5,318.0 L124.5,317.0 L124.6,316.0 L124.7,315.0 L124.8,314.0 L124.9,313.1 L125.0,312.1 L125.1,311.1 L125.2,310.1 L125.3,309.1 L125.4,308.1 L125.6,307.1 L125.7,306.1 L125.8,305.1 L125.9,304.1 L126.0,303.1 L126.1,302.1 L126.3,301.2 L126.4,300.2 L126.5,299.2 L126.6,298.2 L126.8,297.2 L127.0,296.2 L127.1,295.2 L127.3,294.3 L127.5,293.3 L127.7,292.3 L127.9,291.3 L128.1,290.3 L128.3,289.3 L128.5,288.4 L128.7,287.4 L129.0,286.4 L129.2,285.4 L129.4,284.5 L129.7,283.5 L129.9,282.5 L130.2,281.5 L130.4,280.6 L130.7,279.6 L130.9,278.6 L131.2,277.7 L131.4,276.7 L131.7,275.7 L132.0,274.8 L132.2,273.8 L132.5,272.9 L132.8,271.9 L133.1,271.0 L133.4,270.0 L133.7,269.1 L134.1,268.1 L134.4,267.2 L134.8,266.2 L135.1,265.3 L135.5,264.3 L135.8,263.4 L136.2,262.5 L136.5,261.5 L136.9,260.6 L137.2,259.7 L137.6,258.7 L137.9,257.8 L138.3,256.8 L138.6,255.9 L139.0,255.0 L139.3,254.0 L139.6,253.1 L139.9,252.1 L140.2,251.2 L140.5,250.2 L140.8,249.2 L141.1,248.3 L141.4,247.3 L141.6,246.4 L141.9,245.4 L142.1,244.4 L142.4,243.4 L142.6,242.5 L142.8,241.5 L143.0,240.5 L143.3,239.5 L143.5,238.5 L143.7,237.6 L144.0,236.6 L144.2,235.6 L144.5,234.6 L144.7,233.7 L145.0,232.7 L145.2,231.7 L145.5,230.8 L145.8,229.8 L146.1,228.9 L146.4,227.9 L146.7,227.0 L147.0,226.1 L147.4,225.1 L147.8,224.2 L148.2,223.3 L148.6,222.4 L149.0,221.5 L149.4,220.6 L149.9,219.7 L150.3,218.8 L150.8,217.9 L151.3,217.0 L151.7,216.1 L152.2,215.2 L152.6,214.3 L153.1,213.4 L153.6,212.6 L154.1,211.7 L154.6,210.8 L155.1,209.9 L155.6,209.1 L156.1,208.2 L156.5,207.3 L157.0,206.4 L157.4,205.5 L157.9,204.6 L158.3,203.7 L158.8,202.9 L159.4,202.0 L160.0,201.2 L160.6,200.4 L161.2,199.7 L161.9,198.9 L162.5,198.1 L163.2,197.4 L163.9,196.7 L164.7,196.1 L165.5,195.5 L166.4,195.0 L167.2,194.4 L168.0,193.8 L168.7,193.1 L169.5,192.4 L170.3,191.9 L171.2,191.6 L172.2,191.2 L173.2,191.0 L174.1,190.7 L175.1,190.4 L176.1,190.1 L177.0,189.9 L178.0,189.6 L178.9,189.3 L179.9,189.1 L180.9,188.8 L181.8,188.5 L182.8,188.2 L183.8,188.0 L184.7,187.7 L185.7,187.5 L186.7,187.2 L187.6,187.0 L188.6,186.8 L189.6,186.6 L190.6,186.4 L191.6,186.2 L192.5,186.0 L193.5,185.7 L194.5,185.5 L195.4,185.2 L196.4,184.9 L197.4,184.7 L198.3,184.4 L199.3,184.1 L200.2,183.8 L201.2,183.5 L202.1,183.2 L203.1,182.8 L204.0,182.5 L205.0,182.2 L205.9,181.9 L206.9,181.6 L207.8,181.3 L208.8,180.9 L209.7,180.6 L210.7,180.3 L211.6,180.0 L212.6,179.7 L213.5,179.4 L214.5,179.1 L215.4,178.8 L216.4,178.5 L217.4,178.2 L218.3,177.9 L219.3,177.6 L220.2,177.3 L221.2,177.0 L222.1,176.7 L223.1,176.4 L224.1,176.1 L225.0,175.8 L226.0,175.6 L226.9,175.3 L227.9,175.0 L228.9,174.7 L229.8,174.4 L230.8,174.1 L231.7,173.9 L232.7,173.6 L233.7,173.3 L234.6,173.0 L235.6,172.8 L236.6,172.5 L237.5,172.2 L238.5,172.0 L239.5,171.8 L240.4,171.5 L241.4,171.3 L242.4,171.1 L243.4,170.9 L244.3,170.6 L245.3,170.4 L246.3,170.2 L247.3,170.0 L248.3,169.8 L249.3,169.6 L250.2,169.4 L251.2,169.3 L252.2,169.1 L253.2,169.2 L254.2,168.9 L255.2,168.9 L256.2,169.0 L257.2,168.7 L258.2,168.6 L259.2,168.6 L260.2,168.8 L261.2,169.2 L262.2,168.6 L263.2,168.3 L264.2,168.7 L265.2,168.4 L266.2,168.5 L267.2,168.8 L268.2,168.2 L269.2,168.5 L270.2,168.2 L271.2,168.4 L272.2,168.5 L273.2,168.1 L274.2,168.3 L275.2,168.3 L276.2,168.1 L277.2,168.0 L278.2,167.9 L279.2,168.3 L280.2,168.2 L281.2,169.0 L282.2,167.6 L283.2,168.3 L284.2,168.4 L285.2,168.7 L286.2,168.5 L287.2,168.1 L288.2,168.4 L289.2,168.5 L290.2,168.3 L291.2,168.6 L292.2,167.9 L293.2,169.0 L294.2,168.9 L295.2,168.4 L296.2,168.7 L297.2,168.6 L298.2,168.4 L299.2,168.7 L300.2,169.0 L301.2,168.6 L302.2,168.6 L303.2,168.6 L304.2,168.7 L305.2,168.9 L306.2,168.2 L307.2,168.5 L308.2,168.3 L309.2,167.6 L310.2,168.0 L311.2,168.0 L312.2,168.0 L313.2,168.1 L314.2,167.4 L315.2,168.0 L316.2,167.9 L317.2,167.7 L318.2,168.3 L319.2,168.4 L320.2,168.1 L321.2,168.6 L322.2,168.3 L323.2,168.5 L324.2,168.2 L325.2,169.1 L326.2,167.9 L327.2,168.7 L328.2,169.0 L329.2,168.2 L330.2,168.8 L331.2,168.9 L332.2,169.1 L333.2,169.3 L334.2,168.9 L335.2,168.8 L336.2,169.3 L337.2,169.4 L338.2,169.2 L339.2,169.3 L340.2,169.4 L341.2,169.5 L342.2,169.6 L343.1,169.8 L344.1,169.9 L345.1,170.1 L346.1,170.3 L347.1,170.5 L348.1,170.7 L349.0,171.0 L350.0,171.2 L351.0,171.4 L352.0,171.6 L353.0,171.8 L353.9,172.0 L354.9,172.2 L355.9,172.4 L356.9,172.6 L357.9,172.8 L358.8,173.0 L359.8,173.2 L360.8,173.4 L361.8,173.6 L362.8,173.8 L363.8,174.0 L364.7,174.2 L365.7,174.4 L366.7,174.6 L367.7,174.8 L368.7,175.0 L369.6,175.1 L370.6,175.3 L371.6,175.5 L372.6,175.7 L373.6,175.9 L374.6,176.0 L375.6,176.2 L376.5,176.4 L377.5,176.5 L378.5,176.7 L379.5,176.9 L380.5,177.0 L381.5,177.2 L382.5,177.3 L383.5,177.5 L384.4,177.6 L385.4,177.8 L386.4,177.9 L387.4,178.1 L388.4,178.2 L389.4,178.3 L390.4,178.5 L391.4,178.6 L392.4,178.7 L393.4,178.8 L394.4,178.9 L395.4,179.0 L396.4,179.1 L397.4,179.2 L398.3,179.3 L399.3,179.4 L400.3,179.5 L401.3,179.6 L402.3,179.7 L403.3,179.8 L404.3,179.9 L405.3,180.0 L406.3,180.1 L407.3,180.2 L408.3,180.3 L409.3,180.4 L410.3,180.5 L411.3,180.6 L412.3,180.8 L413.3,180.9 L414.3,181.0 L415.3,181.1 L416.3,181.2 L417.3,181.3 L418.3,181.4 L419.3,181.5 L420.2,181.6 L421.2,181.7 L422.2,181.8 L423.2,181.9 L424.2,182.0 L425.2,182.1 L426.2,182.2 L427.2,182.3 L428.2,182.4 L429.2,182.5 L430.2,182.6 L431.2,182.7 L432.2,182.8 L433.2,182.9 L434.2,183.0 L435.2,183.0 L436.2,183.1 L437.2,183.2 L438.2,183.3 L439.2,183.4 L440.2,183.5 L441.2,183.6 L442.2,183.7 L443.2,183.8 L444.1,183.9 L445.1,184.0 L446.1,184.1 L447.1,184.2 L448.1,184.3 L449.1,184.4 L450.1,184.5 L451.1,184.6 L452.1,184.7 L453.1,184.8 L454.1,184.9 L455.1,185.0 L456.1,185.1 L457.1,185.2 L458.1,185.3 L459.1,185.4 L460.1,185.5 L461.1,185.6 L462.1,185.7 L463.1,185.8 L464.1,185.9 L465.1,186.0 L466.1,186.1 L467.0,186.2 L468.0,186.3 L469.0,186.4 L470.0,186.5 L471.0,186.6 L472.0,186.7 L473.0,186.8 L474.0,186.9 L475.0,187.0 L476.0,187.1 L477.0,187.2 L478.0,187.3 L479.0,187.4 L480.0,187.5 L481.0,187.6 L482.0,187.7 L483.0,187.8 L484.0,187.9 L485.0,188.0 L486.0,188.1 L487.0,188.2 L488.0,188.3 L489.0,188.4 L490.0,188.5 L490.9,188.6 L491.9,188.7 L492.9,188.8 L493.9,189.0 L494.9,189.1 L495.9,189.2 L496.9,189.3 L497.9,189.4 L498.9,189.6 L499.9,189.7 L500.9,189.9 L501.9,190.0 L502.8,190.2 L503.8,190.4 L504.8,190.6 L505.8,190.8 L506.8,191.0 L507.7,191.2 L508.7,191.4 L509.7,191.6 L510.7,191.9 L511.7,192.1 L512.6,192.3 L513.6,192.5 L514.6,192.7 L515.6,192.9 L516.6,193.1 L517.5,193.3 L518.5,193.5 L519.5,193.7 L520.5,193.9 L521.5,194.1 L522.4,194.3 L523.4,194.5 L524.4,194.7 L525.4,194.9 L526.3,195.1 L527.3,195.3 L528.3,195.5 L529.3,195.7 L530.3,196.0 L531.2,196.2 L532.2,196.4 L533.2,196.6 L534.2,196.8 L535.2,197.0 L536.1,197.2 L537.1,197.4 L538.1,197.6 L539.1,197.8 L540.1,198.0 L541.0,198.2 L542.0,198.5 L543.0,198.7 L544.0,198.9 L544.9,199.1 L545.9,199.3 L546.9,199.5 L547.9,199.7 L548.9,199.9 L549.8,200.1 L550.8,200.3 L551.8,200.5 L552.8,200.8 L553.7,201.0 L554.7,201.2 L555.7,201.4 L556.7,201.6 L557.7,201.8 L558.6,202.0 L559.6,202.2 L560.6,202.4 L561.6,202.6 L562.6,202.8 L563.5,203.0 L564.5,203.3 L565.5,203.5 L566.5,203.7 L567.5,203.9 L568.4,204.1 L569.4,204.3 L570.4,204.5 L571.4,204.7 L572.4,204.9 L573.3,205.1 L574.3,205.3 L575.3,205.5 L576.3,205.7 L577.3,205.9 L578.2,206.1 L579.2,206.3 L580.2,206.5 L581.2,206.7 L582.2,206.9 L583.1,207.1 L584.1,207.3 L585.1,207.5 L586.1,207.7 L587.0,207.9 L588.0,208.2 L589.0,208.4 L590.0,208.6 L591.0,208.8 L591.9,209.0 L592.9,209.2 L593.9,209.4 L594.9,209.6 L595.9,209.8 L596.8,210.0 L597.8,210.2 L598.8,210.4 L599.8,210.6 L600.7,210.9 L601.7,211.1 L602.7,211.3 L603.7,211.6 L604.6,211.8 L605.6,212.1 L606.6,212.3 L607.5,212.6 L608.5,212.8 L609.5,213.1 L610.4,213.3 L611.4,213.6 L612.4,213.8 L613.3,214.1 L614.3,214.3 L615.3,214.6 L616.3,214.8 L617.2,215.1 L618.2,215.3 L619.2,215.6 L620.1,215.8 L621.1,216.1 L622.1,216.4 L623.0,216.6 L624.0,216.9 L625.0,217.1 L625.9,217.3 L626.9,217.6 L627.9,217.8 L628.9,218.0 L629.8,218.2 L630.8,218.4 L631.8,218.6 L632.8,218.8 L633.8,219.0 L634.8,219.2 L635.7,219.4 L636.7,219.6 L637.7,219.8 L638.7,220.0 L639.7,220.2 L640.6,220.4 L641.6,220.6 L642.6,220.8 L643.6,221.1 L644.5,221.3 L645.5,221.6 L646.4,221.9 L647.4,222.2 L648.4,222.5 L649.3,222.7 L650.3,223.0 L651.2,223.3 L652.2,223.6 L653.2,223.9 L654.1,224.2 L655.1,224.4 L656.1,224.7 L657.0,225.0 L658.0,225.2 L659.0,225.5 L659.9,225.7 L660.9,225.9 L661.9,226.2 L662.8,226.4 L663.8,226.6 L664.8,226.9 L665.8,227.1 L666.7,227.3 L667.7,227.6 L668.7,227.8 L669.7,228.0 L670.6,228.2 L671.6,228.4 L672.6,228.6 L673.6,228.8 L674.6,229.0 L675.5,229.2 L676.5,229.4 L677.5,229.6 L678.5,229.8 L679.5,230.0 L680.5,230.2 L681.4,230.4 L682.4,230.5 L683.4,230.7 L684.4,230.9 L685.4,231.1 L686.3,231.4 L687.3,231.6 L688.3,231.8 L689.3,232.0 L690.3,232.2 L691.2,232.4 L692.2,232.6 L693.2,232.8 L694.2,233.0 L695.2,233.2 L696.1,233.4 L697.1,233.6 L698.1,233.9 L699.1,234.1 L700.0,234.3 L701.0,234.5 L702.0,234.7" stroke="#0000ff"/>
<path d="M259.5,169.3 L262.5,169.3 L261.4,172.2 L260.6,172.2 Z" fill="#0000ff" stroke="none"/>
<path d="M271.9,169.3 L275.3,169.3 L274.0,172.8 L273.2,172.8 Z" fill="#0000ff" stroke="none"/>
<path d="M287.2,169.3 L290.6,169.3 L289.3,172.6 L288.5,172.6 Z" fill="#0000ff" stroke="none"/>
<path d="M300.6,169.3 L304.6,169.3 L303.0,172.8 L302.2,172.8 Z" fill="#0000ff" stroke="none"/>
<path d="M295.3,169.3 L297.7,169.3 L296.9,171.6 L296.1,171.6 Z" fill="#0000ff" stroke="none"/>
<path d="M119.3,470.0 L119.3,469.0 L119.4,468.0 L119.4,467.0 L119.5,466.0 L119.5,465.0 L119.5,464.0 L119.6,463.0 L119.6,462.0 L119.7,461.0 L119.7,460.0 L119.8,459.0 L119.8,458.0 L119.9,457.0 L119.9,456.0 L119.9,455.0 L120.0,454.0 L120.0,453.0 L120.1,452.0 L120.2,451.0 L120.2,450.0 L120.3,449.0 L120.3,448.0 L120.4,447.0 L120.4,446.0 L120.5,445.0 L120.5,444.0 L120.6,443.0 L120.7,442.0 L120.7,441.0 L120.8,440.0 L120.8,439.0 L120.9,438.0 L121.0,437.0 L121.0,436.0 L121.1,435.0 L121.1,434.0 L121.2,433.0 L121.3,432.0 L121.3,431.0 L121.4,430.0 L121.5,429.0 L121.5,428.0 L121.6,427.0 L121.6,426.0 L121.7,425.0 L121.8,424.0 L121.8,423.1 L121.9,422.1 L121.9,421.1 L122.0,420.1 L122.0,419.1 L122.1,418.1 L122.1,417.1 L122.2,416.1 L122.3,415.1 L122.3,414.1 L122.4,413.1 L122.4,412.1 L122.5,411.1 L122.5,410.1 L122.5,409.1 L122.6,408.1 L122.6,407.1 L122.7,406.1 L122.7,405.1 L122.8,404.1 L122.8,403.1 L122.8,402.1 L122.9,401.1 L122.9,400.1 L123.0,399.1 L123.0,398.1 L123.0,397.1 L123.1,396.1 L123.1,395.1 L123.1,394.1 L123.2,393.1 L123.2,392.1 L123.2,391.1 L123.3,390.1 L123.3,389.1 L123.3,388.1 L123.4,387.1 L123.4,386.1 L123.4,385.1 L123.5,384.1 L123.5,383.1 L123.5,382.1 L123.6,381.1 L123.6,380.1 L123.6,379.1 L123.7,378.1 L123.7,377.1 L123.8,376.1 L123.8,375.1 L123.8,374.1 L123.9,373.1 L123.9,372.1 L123.9,371.1 L124.0,370.1 L124.0,369.1 L124.0,368.1 L124.1,367.1 L124.1,366.1 L124.2,365.1 L124.2,364.1 L124.2,363.1 L124.3,362.1 L124.3,361.1 L124.4,360.1 L124.4,359.1 L124.5,358.1 L124.5,357.1 L124.5,356.1 L124.6,355.1 L124.6,354.1 L124.7,353.1 L124.7,352.1 L124.8,351.1 L124.8,350.1 L124.9,349.1 L124.9,348.1 L125.0,347.1 L125.0,346.1 L125.1,345.1 L125.1,344.1 L125.2,343.1 L125.2,342.1 L125.3,341.1 L125.4,340.1 L125.4,339.1 L125.5,338.1 L125.5,337.1 L125.6,336.1 L125.6,335.1 L125.7,334.1 L125.7,333.1 L125.8,332.1 L125.9,331.1 L125.9,330.1 L126.0,329.1 L126.0,328.1 L126.1,327.1 L126.2,326.1 L126.2,325.1 L126.3,324.1 L126.4,323.1 L126.4,322.1 L126.5,321.1 L126.6,320.1 L126.6,319.1 L126.7,318.1 L126.8,317.1 L126.8,316.1 L126.9,315.1 L127.0,314.1 L127.1,313.1 L127.2,312.1 L127.2,311.1 L127.3,310.1 L127.4,309.1 L127.5,308.1 L127.6,307.1 L127.6,306.1 L127.7,305.1 L127.8,304.2 L127.9,303.2 L128.0,302.2 L128.1,301.2 L128.2,300.2 L128.3,299.2 L128.4,298.2 L128.5,297.2 L128.6,296.2 L128.7,295.2 L128.8,294.2 L128.9,293.2 L129.0,292.2 L129.2,291.2 L129.3,290.3 L129.4,289.3 L129.6,288.3 L129.7,287.3 L129.8,286.3 L130.0,285.3 L130.1,284.3 L130.3,283.3 L130.4,282.3 L130.6,281.3 L130.7,280.3 L130.9,279.3 L131.1,278.4 L131.2,277.4 L131.4,276.4 L131.6,275.4 L131.7,274.4 L131.9,273.4 L132.1,272.4 L132.3,271.4 L132.5,270.4 L132.6,269.5 L132.8,268.5 L133.0,267.5 L133.2,266.5 L133.4,265.5 L133.6,264.5 L133.8,263.6 L134.0,262.6 L134.2,261.6 L134.4,260.6 L134.6,259.6 L134.8,258.7 L135.0,257.7 L135.2,256.7 L135.4,255.7 L135.6,254.7 L135.9,253.8 L136.1,252.8 L136.3,251.8 L136.5,250.9 L136.7,249.9 L137.0,248.9 L137.2,247.9 L137.4,247.0 L137.7,246.0 L137.9,245.0 L138.2,244.1 L138.5,243.1 L138.7,242.2 L139.0,241.2 L139.3,240.2 L139.6,239.3 L139.9,238.3 L140.2,237.4 L140.5,236.4 L140.8,235.4 L141.1,234.5 L141.4,233.5 L141.7,232.6 L142.0,231.6 L142.4,230.7 L142.7,229.7 L143.0,228.8 L143.3,227.8 L143.6,226.9 L144.0,225.9 L144.3,225.0 L144.6,224.1 L145.0,223.1 L145.3,222.2 L145.7,221.2 L146.0,220.3 L146.4,219.4 L146.7,218.4 L147.1,217.5 L147.5,216.6 L147.8,215.6 L148.2,214.7 L148.6,213.8 L149.0,212.9 L149.3,211.9 L149.7,211.0 L150.1,210.1 L150.4,209.1 L150.8,208.2 L151.2,207.3 L151.6,206.4 L152.0,205.4 L152.3,204.5 L152.7,203.6 L153.1,202.7 L153.6,201.8 L154.0,200.9 L154.4,200.0 L154.8,199.0 L155.2,198.1 L155.7,197.2 L156.1,196.3 L156.6,195.5 L157.0,194.6 L157.5,193.7 L157.9,192.8 L158.4,191.9 L158.9,191.0 L159.3,190.1 L159.8,189.2 L160.3,188.4 L160.8,187.5 L161.3,186.6 L161.8,185.8 L162.3,184.9 L162.8,184.0 L163.3,183.2 L163.8,182.3 L164.4,181.5 L165.0,180.6 L165.6,179.8 L166.3,179.1 L167.0,178.6 L168.0,178.1 L168.9,177.7 L169.9,177.5 L170.8,177.2 L171.8,177.1 L172.8,176.9 L173.8,176.7 L174.8,176.5 L175.8,176.4 L176.8,176.3 L177.8,176.2 L178.8,176.2 L179.8,176.1 L180.8,176.1 L181.8,176.1 L182.8,176.0 L183.8,176.0 L184.8,176.0 L185.8,176.0 L186.8,176.0 L187.8,176.1 L188.8,176.1 L189.8,176.1 L190.8,176.1 L191.8,176.1 L192.8,176.1 L193.8,176.2 L194.8,176.2 L195.8,176.2 L196.8,176.3 L197.8,176.3 L198.8,176.3 L199.8,176.3 L200.8,176.3 L201.8,176.3 L202.8,176.4 L203.8,176.4 L204.8,176.4 L205.8,176.3 L206.7,176.1 L207.7,175.9 L208.7,175.6 L209.7,175.4 L210.7,175.2 L211.6,175.0 L212.6,174.8 L213.6,174.5 L214.6,174.3 L215.5,174.1 L216.5,173.8 L217.5,173.5 L218.4,173.3 L219.4,173.0 L220.3,172.7 L221.3,172.4 L222.3,172.1 L223.2,171.8 L224.2,171.6 L225.2,171.3 L226.1,171.1 L227.1,170.9 L228.1,170.6 L229.1,170.4 L230.0,170.2 L231.0,170.0 L232.0,169.9 L233.0,169.7 L234.0,169.5 L235.0,169.3 L235.9,169.2 L236.9,169.0 L237.9,168.8 L238.9,168.5 L239.9,168.5 L240.9,168.3 L241.9,168.1 L242.8,167.9 L243.8,167.8 L244.8,167.5 L245.8,167.2 L246.8,167.5 L247.8,167.3 L248.8,167.4 L249.8,166.8 L250.7,166.6 L251.7,166.4 L252.7,166.0 L253.7,166.6 L254.7,165.9 L255.7,165.7 L256.7,165.9 L257.7,166.3 L258.7,165.9 L259.7,165.4 L260.7,165.4 L261.7,165.7 L262.7,165.4 L263.7,165.1 L264.7,165.2 L265.7,165.5 L266.7,165.8 L267.7,164.8 L268.7,165.0 L269.7,164.9 L270.7,164.4 L271.7,164.8 L272.7,164.8 L273.7,165.4 L274.7,165.0 L275.7,164.5 L276.7,165.2 L277.7,164.9 L278.7,164.5 L279.7,164.8 L280.7,164.8 L281.7,164.7 L282.7,165.0 L283.7,164.4 L284.7,165.0 L285.7,165.4 L286.7,165.4 L287.7,165.6 L288.7,165.6 L289.7,165.8 L290.7,165.1 L291.7,165.7 L292.7,165.0 L293.7,165.4 L294.7,165.1 L295.7,166.0 L296.7,166.2 L297.7,165.8 L298.7,166.5 L299.7,165.8 L300.7,166.0 L301.7,166.1 L302.7,165.7 L303.7,166.2 L304.7,166.6 L305.7,165.8 L306.7,166.4 L307.7,166.0 L308.7,166.6 L309.7,166.3 L310.7,166.3 L311.7,166.3 L312.7,166.3 L313.7,165.8 L314.7,166.7 L315.7,165.9 L316.7,166.5 L317.7,166.7 L318.7,166.3 L319.7,166.8 L320.7,167.2 L321.6,167.0 L322.6,166.9 L323.6,166.4 L324.6,167.2 L325.6,167.5 L326.6,167.7 L327.6,167.7 L328.5,168.3 L329.5,168.3 L330.5,168.7 L331.4,169.2 L332.4,169.2 L333.3,169.7 L334.2,170.5 L335.1,170.7 L336.0,170.8 L337.0,171.4 L337.9,171.9 L338.8,172.4 L339.7,172.6 L340.6,172.9 L341.6,173.2 L342.5,173.5 L343.5,173.8 L344.5,174.1 L345.4,174.4 L346.4,174.6 L347.4,174.9 L348.3,175.1 L349.3,175.4 L350.3,175.6 L351.3,175.8 L352.3,176.0 L353.2,176.2 L354.2,176.4 L355.2,176.5 L356.2,176.7 L357.2,176.8 L358.2,177.0 L359.2,177.1 L360.1,177.3 L361.1,177.4 L362.1,177.5 L363.1,177.6 L364.1,177.8 L365.1,177.9 L366.1,178.0 L367.1,178.2 L368.1,178.3 L369.1,178.4 L370.1,178.5 L371.1,178.7 L372.1,178.8 L373.1,178.9 L374.0,179.1 L375.0,179.2 L376.0,179.3 L377.0,179.4 L378.0,179.5 L379.0,179.6 L380.0,179.7 L381.0,179.8 L382.0,179.8 L383.0,179.9 L384.0,180.0 L385.0,180.0 L386.0,180.1 L387.0,180.1 L388.0,180.2 L389.0,180.2 L390.0,180.3 L391.0,180.3 L392.0,180.4 L393.0,180.4 L394.0,180.5 L395.0,180.5 L396.0,180.6 L397.0,180.6 L398.0,180.7 L399.0,180.7 L400.0,180.8 L401.0,180.9 L402.0,181.0 L403.0,181.1 L404.0,181.2 L405.0,181.3 L405.9,181.5 L406.9,181.7 L407.9,181.8 L408.9,182.0 L409.9,182.1 L410.9,182.3 L411.9,182.4 L412.9,182.5 L413.9,182.6 L414.9,182.7 L415.9,182.8 L416.9,182.9 L417.9,183.0 L418.9,183.1 L419.9,183.2 L420.9,183.2 L421.8,183.3 L422.8,183.4 L423.8,183.5 L424.8,183.5 L425.8,183.6 L426.8,183.7 L427.8,183.8 L428.8,183.8 L429.8,183.9 L430.8,184.0 L431.8,184.1 L432.8,184.1 L433.8,184.2 L434.8,184.3 L435.8,184.4 L436.8,184.4 L437.8,184.5 L438.8,184.5 L439.8,184.6 L440.8,184.6 L441.8,184.7 L442.8,184.7 L443.8,184.7 L444.8,184.7 L445.8,184.8 L446.8,184.8 L447.8,184.8 L448.8,184.8 L449.8,184.9 L450.8,184.9 L451.8,184.9 L452.8,185.0 L453.8,185.0 L454.8,185.1 L455.8,185.1 L456.8,185.1 L457.8,185.2 L458.8,185.3 L459.8,185.3 L460.8,185.4 L461.8,185.4 L462.8,185.5 L463.8,185.6 L464.8,185.6 L465.8,185.7 L466.8,185.8 L467.8,185.8 L468.8,185.9 L469.8,186.0 L470.8,186.0 L471.8,186.1 L472.8,186.2 L473.8,186.2 L474.8,186.3 L475.8,186.4 L476.8,186.5 L477.8,186.6 L478.8,186.7 L479.8,186.7 L480.8,186.8 L481.8,186.9 L482.7,187.0 L483.7,187.2 L484.7,187.3 L485.7,187.4 L486.7,187.5 L487.7,187.6 L488.7,187.7 L489.7,187.9 L490.7,188.0 L491.7,188.1 L492.7,188.2 L493.7,188.3 L494.7,188.4 L495.7,188.5 L496.7,188.6 L497.7,188.7 L498.7,188.8 L499.6,189.0 L500.6,189.1 L501.6,189.2 L502.6,189.4 L503.6,189.5 L504.6,189.7 L505.6,189.9 L506.6,190.1 L507.5,190.3 L508.5,190.5 L509.5,190.7 L510.5,190.9 L511.5,191.1 L512.4,191.2 L513.4,191.4 L514.4,191.6 L515.4,191.8 L516.4,192.0 L517.4,192.2 L518.3,192.4 L519.3,192.6 L520.3,192.8 L521.3,193.0 L522.3,193.2 L523.2,193.4 L524.2,193.6 L525.2,193.8 L526.2,194.0 L527.2,194.2 L528.1,194.4 L529.1,194.6 L530.1,194.8 L531.1,195.0 L532.1,195.2 L533.0,195.4 L534.0,195.6 L535.0,195.8 L536.0,196.0 L537.0,196.2 L537.9,196.4 L538.9,196.6 L539.9,196.8 L540.9,197.0 L541.9,197.2 L542.8,197.4 L543.8,197.6 L544.8,197.8 L545.8,198.0 L546.8,198.2 L547.7,198.4 L548.7,198.6 L549.7,198.8 L550.7,199.0 L551.7,199.2 L552.6,199.4 L553.6,199.6 L554.6,199.8 L555.6,200.0 L556.6,200.2 L557.5,200.4 L558.5,200.6 L559.5,200.8 L560.5,201.0 L561.5,201.2 L562.4,201.4 L563.4,201.6 L564.4,201.8 L565.4,202.0 L566.4,202.2 L567.3,202.4 L568.3,202.6 L569.3,202.8 L570.3,203.0 L571.3,203.2 L572.2,203.4 L573.2,203.6 L574.2,203.8 L575.2,204.0 L576.2,204.2 L577.2,204.4 L578.1,204.6 L579.1,204.8 L580.1,205.0 L581.1,205.2 L582.1,205.4 L583.0,205.6 L584.0,205.8 L585.0,206.0 L586.0,206.2 L586.9,206.4 L587.9,206.6 L588.9,206.8 L589.9,207.0 L590.9,207.2 L591.8,207.4 L592.8,207.6 L593.8,207.8 L594.8,208.0 L595.8,208.2 L596.8,208.4 L597.7,208.6 L598.7,208.8 L599.7,209.0 L600.7,209.2 L601.6,209.4 L602.6,209.6 L603.6,209.9 L604.6,210.1 L605.5,210.4 L606.5,210.6 L607.5,210.9 L608.4,211.1 L609.4,211.4 L610.4,211.7 L611.3,211.9 L612.3,212.2 L613.3,212.4 L614.2,212.7 L615.2,212.9 L616.2,213.1 L617.2,213.4 L618.1,213.6 L619.1,213.9 L620.1,214.1 L621.0,214.3 L622.0,214.6 L623.0,214.8 L624.0,215.0 L624.9,215.3 L625.9,215.5 L626.9,215.7 L627.9,216.0 L628.8,216.2 L629.8,216.4 L630.8,216.6 L631.8,216.9 L632.7,217.1 L633.7,217.3 L634.7,217.5 L635.7,217.7 L636.6,217.9 L637.6,218.2 L638.6,218.4 L639.6,218.6 L640.5,218.8 L641.5,219.1 L642.5,219.3 L643.5,219.5 L644.4,219.8 L645.4,220.0 L646.4,220.3 L647.3,220.5 L648.3,220.8 L649.3,221.0 L650.2,221.3 L651.2,221.5 L652.2,221.8 L653.1,222.1 L654.1,222.3 L655.1,222.6 L656.0,222.8 L657.0,223.1 L658.0,223.3 L658.9,223.6 L659.9,223.8 L660.9,224.1 L661.8,224.3 L662.8,224.6 L663.8,224.9 L664.7,225.1 L665.7,225.4 L666.7,225.6 L667.7,225.9 L668.6,226.1 L669.6,226.3 L670.6,226.6 L671.5,226.8 L672.5,227.0 L673.5,227.2 L674.5,227.4 L675.4,227.6 L676.4,227.8 L677.4,228.0 L678.4,228.3 L679.4,228.5 L680.3,228.7 L681.3,228.8 L682.3,229.0 L683.3,229.2 L684.3,229.4 L685.3,229.6 L686.2,229.8 L687.2,230.0 L688.2,230.2 L689.2,230.3 L690.2,230.5 L691.2,230.7 L692.1,230.9 L693.1,231.0 L694.1,231.2 L695.1,231.4 L696.1,231.6 L697.1,231.7 L698.1,231.9 L699.0,232.1 L700.0,232.3 L701.0,232.4 L702.0,232.6" stroke="#ff0000"/>
<path d="M307.9,166.0 L309.9,166.0 L309.3,171.0 L308.5,171.0 Z" fill="#ff0000" stroke="none"/>
<path d="M321.3,167.0 L323.3,167.0 L322.7,171.2 L321.9,171.2 Z" fill="#ff0000" stroke="none"/>
<path d="M296.7,166.0 L298.5,166.0 L298.0,170.2 L297.2,170.2 Z" fill="#ff0000" stroke="none"/>
<path d="M330.3,169.0 L332.7,169.0 L331.9,174.0 L331.1,174.0 Z" fill="#ff0000" stroke="none"/>
<path d="M124.4,470.0 L124.4,469.0 L124.5,468.0 L124.5,467.0 L124.6,466.0 L124.6,465.0 L124.7,464.0 L124.7,463.0 L124.7,462.0 L124.8,461.0 L124.8,460.0 L124.9,459.0 L124.9,458.0 L125.0,457.0 L125.0,456.0 L125.0,455.0 L125.1,454.0 L125.1,453.0 L125.2,452.0 L125.2,451.0 L125.3,450.0 L125.3,449.0 L125.3,448.0 L125.4,447.0 L125.4,446.0 L125.5,445.0 L125.5,444.0 L125.6,443.0 L125.6,442.0 L125.7,441.0 L125.7,440.0 L125.7,439.0 L125.8,438.0 L125.8,437.0 L125.9,436.0 L125.9,435.0 L126.0,434.0 L126.0,433.0 L126.1,432.0 L126.1,431.0 L126.1,430.0 L126.2,429.0 L126.2,428.0 L126.3,427.0 L126.3,426.0 L126.4,425.0 L126.4,424.0 L126.5,423.0 L126.5,422.0 L126.5,421.0 L126.6,420.0 L126.6,419.0 L126.7,418.0 L126.7,417.0 L126.8,416.0 L126.8,415.0 L126.8,414.0 L126.9,413.0 L126.9,412.0 L127.0,411.0 L127.0,410.0 L127.0,409.0 L127.1,408.0 L127.1,407.0 L127.2,406.0 L127.2,405.0 L127.2,404.0 L127.3,403.0 L127.3,402.0 L127.3,401.0 L127.4,400.0 L127.4,399.0 L127.5,398.0 L127.5,397.0 L127.5,396.0 L127.6,395.0 L127.6,394.0 L127.6,393.0 L127.7,392.0 L127.7,391.0 L127.7,390.0 L127.8,389.0 L127.8,388.0 L127.8,387.0 L127.9,386.0 L127.9,385.0 L128.0,384.0 L128.0,383.0 L128.0,382.0 L128.1,381.0 L128.1,380.0 L128.1,379.0 L128.2,378.0 L128.2,377.0 L128.2,376.0 L128.3,375.0 L128.3,374.0 L128.3,373.0 L128.4,372.0 L128.4,371.0 L128.5,370.0 L128.5,369.0 L128.5,368.0 L128.6,367.0 L128.6,366.0 L128.7,365.0 L128.7,364.0 L128.7,363.0 L128.8,362.0 L128.8,361.0 L128.9,360.0 L128.9,359.0 L129.0,358.0 L129.0,357.0 L129.1,356.0 L129.1,355.0 L129.1,354.0 L129.2,353.0 L129.2,352.0 L129.3,351.0 L129.3,350.0 L129.4,349.0 L129.4,348.0 L129.5,347.0 L129.5,346.0 L129.6,345.0 L129.6,344.0 L129.7,343.0 L129.7,342.0 L129.8,341.0 L129.9,340.0 L129.9,339.0 L130.0,338.0 L130.0,337.0 L130.1,336.0 L130.1,335.0 L130.2,334.0 L130.2,333.0 L130.3,332.0 L130.4,331.0 L130.4,330.0 L130.5,329.0 L130.5,328.0 L130.6,327.0 L130.7,326.0 L130.7,325.0 L130.8,324.0 L130.8,323.0 L130.9,322.0 L131.0,321.0 L131.0,320.0 L131.1,319.0 L131.2,318.0 L131.2,317.0 L131.3,316.0 L131.4,315.0 L131.4,314.0 L131.5,313.0 L131.6,312.0 L131.7,311.0 L131.7,310.0 L131.8,309.0 L131.9,308.0 L132.0,307.0 L132.0,306.0 L132.1,305.0 L132.2,304.0 L132.3,303.0 L132.3,302.0 L132.4,301.0 L132.5,300.0 L132.6,299.1 L132.7,298.1 L132.7,297.1 L132.8,296.1 L132.9,295.1 L133.0,294.1 L133.1,293.1 L133.2,292.1 L133.3,291.1 L133.3,290.1 L133.4,289.1 L133.5,288.1 L133.6,287.1 L133.7,286.1 L133.8,285.1 L133.9,284.1 L134.0,283.1 L134.1,282.1 L134.2,281.1 L134.3,280.1 L134.4,279.1 L134.5,278.1 L134.6,277.1 L134.7,276.1 L134.8,275.1 L134.9,274.1 L135.1,273.1 L135.2,272.1 L135.3,271.1 L135.4,270.1 L135.5,269.1 L135.7,268.1 L135.8,267.1 L135.9,266.1 L136.0,265.1 L136.2,264.1 L136.3,263.1 L136.4,262.1 L136.6,261.2 L136.7,260.2 L136.8,259.2 L137.0,258.2 L137.1,257.2 L137.3,256.2 L137.4,255.2 L137.6,254.3 L137.8,253.3 L137.9,252.3 L138.1,251.3 L138.2,250.3 L138.4,249.4 L138.6,248.4 L138.8,247.4 L139.0,246.4 L139.2,245.5 L139.4,244.5 L139.7,243.5 L139.9,242.5 L140.2,241.6 L140.5,240.6 L140.7,239.6 L141.0,238.7 L141.3,237.7 L141.6,236.8 L141.9,235.8 L142.1,234.8 L142.4,233.9 L142.7,232.9 L143.0,231.9 L143.3,231.0 L143.6,230.0 L143.9,229.1 L144.2,228.1 L144.5,227.1 L144.8,226.2 L145.1,225.2 L145.4,224.3 L145.7,223.3 L146.0,222.4 L146.2,221.4 L146.5,220.4 L146.8,219.5 L147.1,218.5 L147.4,217.6 L147.7,216.6 L148.1,215.7 L148.4,214.7 L148.7,213.8 L149.0,212.8 L149.3,211.9 L149.6,210.9 L150.0,210.0 L150.3,209.0 L150.6,208.1 L150.9,207.1 L151.3,206.2 L151.6,205.2 L151.9,204.3 L152.2,203.3 L152.6,202.4 L152.9,201.4 L153.2,200.5 L153.6,199.6 L153.9,198.6 L154.3,197.7 L154.7,196.8 L155.0,195.8 L155.4,194.9 L155.8,194.0 L156.2,193.1 L156.6,192.2 L157.1,191.3 L157.5,190.4 L157.9,189.5 L158.4,188.6 L158.8,187.7 L159.3,186.8 L159.8,185.9 L160.3,185.0 L160.8,184.2 L161.2,183.3 L161.7,182.4 L162.2,181.6 L162.7,180.7 L163.2,179.8 L163.8,179.0 L164.3,178.1 L164.8,177.3 L165.4,176.4 L166.0,175.6 L166.5,174.8 L167.1,174.0 L167.7,173.2 L168.3,172.4 L168.9,171.5 L169.4,170.7 L170.0,169.8 L170.5,169.0 L171.1,168.2 L171.6,167.3 L172.2,166.6 L172.9,165.8 L173.6,165.1 L174.3,164.4 L175.0,163.7 L175.8,163.1 L176.6,162.5 L177.4,161.9 L178.3,161.4 L179.2,161.0 L180.2,160.7 L181.1,160.4 L182.1,160.3 L183.1,160.3 L184.1,160.2 L185.1,160.2 L186.1,160.2 L187.1,160.1 L188.1,160.1 L189.1,160.1 L190.1,160.1 L191.1,160.1 L192.1,160.2 L193.1,160.3 L194.1,160.4 L195.1,160.4 L196.1,160.5 L197.1,160.5 L198.1,160.6 L199.1,160.6 L200.1,160.6 L201.1,160.7 L202.1,160.7 L203.1,160.8 L204.1,160.8 L205.1,160.9 L206.1,160.9 L207.1,161.0 L208.1,161.0 L209.1,161.1 L210.1,161.1 L211.1,161.1 L212.1,161.1 L213.1,161.0 L214.1,161.0 L215.1,161.0 L216.1,160.9 L217.1,160.8 L218.1,160.7 L219.1,160.6 L220.1,160.5 L221.1,160.4 L222.1,160.3 L223.1,160.1 L224.1,160.0 L225.1,159.8 L226.1,159.7 L227.1,159.6 L228.1,159.4 L229.0,159.3 L230.0,159.1 L231.0,159.0 L232.0,158.8 L233.0,158.6 L234.0,158.5 L235.0,158.3 L236.0,158.1 L236.9,157.9 L237.9,157.7 L238.9,157.6 L239.9,157.4 L240.9,157.2 L241.9,157.1 L242.9,157.1 L243.9,156.9 L244.9,156.6 L245.9,156.6 L246.8,156.4 L247.8,156.4 L248.8,156.2 L249.8,155.8 L250.8,156.0 L251.8,155.7 L252.8,156.1 L253.8,155.9 L254.8,155.7 L255.8,155.4 L256.8,155.6 L257.8,155.6 L258.8,155.3 L259.8,156.0 L260.8,155.6 L261.8,155.8 L262.8,155.2 L263.8,155.8 L264.8,155.1 L265.8,155.3 L266.8,155.5 L267.8,155.4 L268.8,154.9 L269.8,155.2 L270.8,155.7 L271.8,156.0 L272.8,155.7 L273.8,155.5 L274.8,155.8 L275.8,155.4 L276.8,155.8 L277.8,155.4 L278.8,155.7 L279.8,155.7 L280.8,155.9 L281.8,155.7 L282.8,156.0 L283.8,155.7 L284.8,156.0 L285.8,155.9 L286.8,155.4 L287.8,155.8 L288.8,155.8 L289.8,155.6 L290.8,155.8 L291.8,155.5 L292.8,155.9 L293.8,155.9 L294.8,155.9 L295.8,156.4 L296.8,155.9 L297.8,155.9 L298.8,155.7 L299.8,156.0 L300.8,155.7 L301.8,156.2 L302.8,155.9 L303.8,156.1 L304.8,156.6 L305.8,156.5 L306.8,156.4 L307.8,156.7 L308.8,156.5 L309.8,156.8 L310.8,156.7 L311.8,156.6 L312.8,157.0 L313.8,157.2 L314.8,157.0 L315.8,157.0 L316.8,157.2 L317.8,156.9 L318.8,157.5 L319.8,157.5 L320.8,158.3 L321.8,157.9 L322.7,157.8 L323.7,158.5 L324.7,158.5 L325.7,158.7 L326.7,158.9 L327.7,159.0 L328.7,159.1 L329.6,159.5 L330.6,159.6 L331.6,159.7 L332.6,159.9 L333.6,160.0 L334.6,160.4 L335.5,160.7 L336.5,160.9 L337.5,161.1 L338.5,161.3 L339.4,161.6 L340.4,161.8 L341.3,162.1 L342.3,162.3 L343.2,162.7 L344.2,163.0 L345.1,163.4 L346.1,163.7 L347.0,164.1 L347.9,164.4 L348.9,164.8 L349.8,165.2 L350.7,165.5 L351.7,165.9 L352.6,166.2 L353.6,166.5 L354.5,166.8 L355.5,167.2 L356.4,167.5 L357.4,167.8 L358.3,168.1 L359.3,168.4 L360.2,168.7 L361.2,169.0 L362.1,169.3 L363.1,169.6 L364.1,169.9 L365.0,170.2 L366.0,170.4 L367.0,170.6 L367.9,170.9 L368.9,171.1 L369.9,171.3 L370.9,171.5 L371.9,171.6 L372.8,171.8 L373.8,172.0 L374.8,172.2 L375.8,172.3 L376.8,172.5 L377.8,172.7 L378.8,172.9 L379.8,173.0 L380.7,173.2 L381.7,173.4 L382.7,173.6 L383.7,173.8 L384.7,173.9 L385.7,174.1 L386.7,174.3 L387.6,174.5 L388.6,174.7 L389.6,174.8 L390.6,175.0 L391.6,175.2 L392.6,175.4 L393.5,175.6 L394.5,175.8 L395.5,176.0 L396.5,176.2 L397.5,176.4 L398.4,176.6 L399.4,176.8 L400.4,177.0 L401.4,177.2 L402.4,177.4 L403.4,177.6 L404.3,177.7 L405.3,177.9 L406.3,178.1 L407.3,178.3 L408.3,178.5 L409.3,178.7 L410.2,178.8 L411.2,179.0 L412.2,179.2 L413.2,179.3 L414.2,179.5 L415.2,179.6 L416.2,179.8 L417.2,179.9 L418.2,180.0 L419.1,180.2 L420.1,180.3 L421.1,180.4 L422.1,180.5 L423.1,180.7 L424.1,180.8 L425.1,180.9 L426.1,181.0 L427.1,181.1 L428.1,181.2 L429.1,181.3 L430.1,181.4 L431.1,181.5 L432.1,181.6 L433.1,181.7 L434.1,181.8 L435.1,181.9 L436.1,182.0 L437.1,182.0 L438.1,182.1 L439.1,182.2 L440.1,182.3 L441.1,182.4 L442.1,182.5 L443.0,182.6 L444.0,182.6 L445.0,182.7 L446.0,182.8 L447.0,182.9 L448.0,183.0 L449.0,183.1 L450.0,183.2 L451.0,183.2 L452.0,183.3 L453.0,183.4 L454.0,183.5 L455.0,183.6 L456.0,183.6 L457.0,183.7 L458.0,183.8 L459.0,183.9 L460.0,183.9 L461.0,184.0 L462.0,184.1 L463.0,184.1 L464.0,184.2 L465.0,184.3 L466.0,184.4 L467.0,184.5 L468.0,184.5 L469.0,184.6 L470.0,184.7 L471.0,184.8 L472.0,184.9 L473.0,184.9 L474.0,185.0 L475.0,185.1 L476.0,185.2 L477.0,185.3 L478.0,185.4 L479.0,185.5 L480.0,185.6 L481.0,185.7 L481.9,185.8 L482.9,185.9 L483.9,186.1 L484.9,186.2 L485.9,186.3 L486.9,186.4 L487.9,186.6 L488.9,186.7 L489.9,186.8 L490.9,187.0 L491.9,187.1 L492.9,187.2 L493.9,187.3 L494.9,187.4 L495.9,187.5 L496.8,187.6 L497.8,187.7 L498.8,187.8 L499.8,187.9 L500.8,188.1 L501.8,188.2 L502.8,188.3 L503.8,188.4 L504.8,188.5 L505.8,188.6 L506.8,188.8 L507.8,188.9 L508.8,189.0 L509.8,189.2 L510.8,189.3 L511.8,189.4 L512.7,189.6 L513.7,189.7 L514.7,189.9 L515.7,190.0 L516.7,190.2 L517.7,190.3 L518.7,190.5 L519.7,190.7 L520.6,190.9 L521.6,191.1 L522.6,191.2 L523.6,191.4 L524.6,191.6 L525.6,191.7 L526.6,191.9 L527.6,192.0 L528.6,192.1 L529.5,192.3 L530.5,192.4 L531.5,192.5 L532.5,192.7 L533.5,192.8 L534.5,192.9 L535.5,193.0 L536.5,193.1 L537.5,193.3 L538.5,193.4 L539.5,193.5 L540.5,193.6 L541.5,193.8 L542.5,193.9 L543.4,194.0 L544.4,194.2 L545.4,194.3 L546.4,194.4 L547.4,194.6 L548.4,194.7 L549.4,194.8 L550.4,195.0 L551.4,195.1 L552.4,195.2 L553.4,195.4 L554.4,195.5 L555.3,195.7 L556.3,195.8 L557.3,195.9 L558.3,196.1 L559.3,196.2 L560.3,196.3 L561.3,196.5 L562.3,196.6 L563.3,196.8 L564.3,196.9 L565.3,197.1 L566.2,197.2 L567.2,197.4 L568.2,197.5 L569.2,197.6 L570.2,197.8 L571.2,198.0 L572.2,198.1 L573.2,198.3 L574.2,198.4 L575.2,198.6 L576.1,198.7 L577.1,198.9 L578.1,199.0 L579.1,199.2 L580.1,199.4 L581.1,199.5 L582.1,199.7 L583.1,199.9 L584.0,200.0 L585.0,200.2 L586.0,200.4 L587.0,200.5 L588.0,200.7 L589.0,200.9 L590.0,201.0 L590.9,201.2 L591.9,201.4 L592.9,201.6 L593.9,201.7 L594.9,201.9 L595.9,202.1 L596.9,202.2 L597.9,202.4 L598.8,202.6 L599.8,202.8 L600.8,203.0 L601.8,203.2 L602.7,203.5 L603.7,203.8 L604.6,204.0 L605.6,204.3 L606.6,204.6 L607.5,205.0 L608.5,205.3 L609.4,205.6 L610.4,205.9 L611.3,206.2 L612.3,206.4 L613.3,206.7 L614.2,206.9 L615.2,207.2 L616.2,207.4 L617.2,207.6 L618.1,207.8 L619.1,208.0 L620.1,208.2 L621.1,208.4 L622.1,208.5 L623.1,208.7 L624.0,208.9 L625.0,209.1 L626.0,209.3 L627.0,209.5 L628.0,209.7 L629.0,209.9 L629.9,210.1 L630.9,210.3 L631.9,210.4 L632.9,210.6 L633.9,210.8 L634.9,211.0 L635.8,211.2 L636.8,211.4 L637.8,211.6 L638.8,211.8 L639.8,212.0 L640.7,212.2 L641.7,212.4 L642.7,212.6 L643.7,212.9 L644.6,213.1 L645.6,213.4 L646.6,213.6 L647.5,213.9 L648.5,214.2 L649.5,214.4 L650.4,214.7 L651.4,215.0 L652.4,215.2 L653.3,215.5 L654.3,215.7 L655.3,216.0 L656.2,216.2 L657.2,216.4 L658.2,216.7 L659.2,216.9 L660.2,217.1 L661.1,217.3 L662.1,217.5 L663.1,217.7 L664.1,218.0 L665.0,218.2 L666.0,218.4 L667.0,218.6 L668.0,218.8 L669.0,219.0 L669.9,219.2 L670.9,219.4 L671.9,219.6 L672.9,219.8 L673.9,220.0 L674.8,220.2 L675.8,220.4 L676.8,220.6 L677.8,220.9 L678.8,221.1 L679.7,221.3 L680.7,221.5 L681.7,221.7 L682.7,221.9 L683.6,222.2 L684.6,222.4 L685.6,222.6 L686.5,222.9 L687.5,223.1 L688.5,223.4 L689.4,223.7 L690.4,224.0 L691.4,224.2 L692.3,224.5 L693.3,224.8 L694.3,225.1 L695.2,225.3 L696.2,225.6 L697.1,225.9 L698.1,226.1 L699.1,226.4 L700.1,226.6 L701.0,226.9 L702.0,227.1" stroke="#ffa500"/>
<path d="M310.3,157.5 L314.3,157.5 L312.7,163.0 L311.9,163.0 Z" fill="#ffa500" stroke="none"/>
<path d="M279.5,156.0 L281.5,156.0 L280.9,158.9 L280.1,158.9 Z" fill="#ffa500" stroke="none"/>
<path d="M294.3,156.0 L296.3,156.0 L295.7,159.3 L294.9,159.3 Z" fill="#ffa500" stroke="none"/>
<path d="M324.7,159.0 L326.5,159.0 L326.0,161.6 L325.2,161.6 Z" fill="#ffa500" stroke="none"/>
<path d="M334.7,161.0 L336.5,161.0 L336.0,164.3 L335.2,164.3 Z" fill="#ffa500" stroke="none"/>
<path d="M128.7,470.0 L128.7,469.0 L128.8,468.0 L128.8,467.0 L128.9,466.0 L128.9,465.0 L129.0,464.0 L129.0,463.0 L129.1,462.0 L129.1,461.0 L129.2,460.0 L129.2,459.0 L129.3,458.0 L129.3,457.0 L129.4,456.0 L129.5,455.0 L129.5,454.0 L129.6,453.0 L129.6,452.0 L129.7,451.0 L129.7,450.0 L129.8,449.0 L129.8,448.0 L129.9,447.0 L129.9,446.0 L130.0,445.0 L130.0,444.0 L130.1,443.0 L130.1,442.0 L130.2,441.0 L130.2,440.0 L130.3,439.0 L130.3,438.0 L130.4,437.0 L130.5,436.0 L130.5,435.0 L130.6,434.0 L130.6,433.0 L130.7,432.0 L130.7,431.0 L130.8,430.0 L130.8,429.0 L130.9,428.0 L130.9,427.0 L131.0,426.0 L131.0,425.0 L131.1,424.0 L131.1,423.0 L131.2,422.0 L131.3,421.0 L131.3,420.0 L131.4,419.0 L131.4,418.0 L131.5,417.0 L131.5,416.0 L131.6,415.0 L131.6,414.0 L131.7,413.0 L131.7,412.0 L131.8,411.0 L131.8,410.0 L131.8,409.0 L131.9,408.0 L131.9,407.0 L132.0,406.0 L132.0,405.0 L132.1,404.0 L132.1,403.0 L132.2,402.0 L132.2,401.0 L132.3,400.0 L132.3,399.0 L132.3,398.0 L132.4,397.0 L132.4,396.0 L132.5,395.0 L132.5,394.0 L132.6,393.0 L132.6,392.0 L132.6,391.0 L132.7,390.0 L132.7,389.0 L132.8,388.0 L132.8,387.0 L132.8,386.0 L132.9,385.0 L132.9,384.0 L133.0,383.0 L133.0,382.0 L133.1,381.0 L133.1,380.0 L133.1,379.0 L133.2,378.0 L133.2,377.0 L133.3,376.0 L133.3,375.0 L133.3,374.0 L133.4,373.0 L133.4,372.0 L133.5,371.0 L133.5,370.0 L133.6,369.0 L133.6,368.0 L133.6,367.0 L133.7,366.0 L133.7,365.0 L133.8,364.0 L133.8,363.0 L133.9,362.0 L133.9,361.0 L134.0,360.0 L134.0,359.0 L134.1,358.0 L134.1,357.0 L134.2,356.0 L134.2,355.0 L134.2,354.0 L134.3,353.0 L134.3,352.0 L134.4,351.0 L134.4,350.0 L134.5,349.0 L134.5,348.0 L134.6,347.0 L134.6,346.0 L134.7,345.0 L134.7,344.0 L134.8,343.0 L134.8,342.0 L134.9,341.0 L134.9,340.0 L135.0,339.0 L135.0,338.0 L135.1,337.0 L135.1,336.0 L135.2,335.0 L135.2,334.0 L135.3,333.0 L135.3,332.0 L135.4,331.0 L135.4,330.0 L135.5,329.0 L135.5,328.0 L135.6,327.0 L135.6,326.0 L135.7,325.0 L135.7,324.0 L135.8,323.0 L135.8,322.0 L135.9,321.0 L135.9,320.0 L136.0,319.0 L136.1,318.0 L136.1,317.0 L136.2,316.0 L136.2,315.0 L136.3,314.0 L136.3,313.0 L136.4,312.0 L136.5,311.0 L136.5,310.0 L136.6,309.0 L136.7,308.0 L136.7,307.0 L136.8,306.0 L136.9,305.0 L136.9,304.0 L137.0,303.0 L137.1,302.0 L137.1,301.0 L137.2,300.0 L137.3,299.0 L137.3,298.0 L137.4,297.0 L137.5,296.0 L137.6,295.0 L137.7,294.0 L137.7,293.0 L137.8,292.0 L137.9,291.0 L138.0,290.0 L138.1,289.0 L138.1,288.0 L138.2,287.0 L138.3,286.0 L138.4,285.1 L138.5,284.1 L138.6,283.1 L138.7,282.1 L138.8,281.1 L138.9,280.1 L139.0,279.1 L139.1,278.1 L139.2,277.1 L139.3,276.1 L139.4,275.1 L139.5,274.1 L139.6,273.1 L139.7,272.1 L139.8,271.1 L139.9,270.1 L140.0,269.1 L140.1,268.1 L140.2,267.1 L140.4,266.1 L140.5,265.1 L140.6,264.1 L140.7,263.1 L140.8,262.1 L141.0,261.1 L141.1,260.1 L141.2,259.2 L141.3,258.2 L141.4,257.2 L141.6,256.2 L141.7,255.2 L141.8,254.2 L142.0,253.2 L142.1,252.2 L142.2,251.2 L142.4,250.2 L142.5,249.2 L142.6,248.3 L142.8,247.3 L142.9,246.3 L143.1,245.3 L143.2,244.3 L143.4,243.3 L143.5,242.3 L143.7,241.3 L143.9,240.3 L144.0,239.3 L144.2,238.3 L144.4,237.3 L144.6,236.3 L144.7,235.4 L144.9,234.4 L145.1,233.4 L145.3,232.4 L145.5,231.4 L145.7,230.5 L146.0,229.5 L146.2,228.5 L146.4,227.5 L146.7,226.6 L146.9,225.6 L147.2,224.7 L147.4,223.7 L147.8,222.8 L148.1,221.8 L148.4,220.9 L148.8,219.9 L149.2,219.0 L149.6,218.1 L149.9,217.1 L150.3,216.2 L150.6,215.3 L151.0,214.3 L151.3,213.4 L151.6,212.4 L152.0,211.5 L152.3,210.5 L152.7,209.6 L153.0,208.7 L153.3,207.7 L153.7,206.8 L154.0,205.8 L154.3,204.9 L154.7,203.9 L155.0,203.0 L155.3,202.1 L155.7,201.1 L156.0,200.2 L156.4,199.2 L156.7,198.3 L157.1,197.4 L157.5,196.5 L157.9,195.5 L158.3,194.6 L158.7,193.7 L159.1,192.8 L159.5,191.9 L159.9,190.9 L160.3,190.0 L160.8,189.1 L161.2,188.3 L161.7,187.4 L162.2,186.5 L162.6,185.6 L163.1,184.7 L163.6,183.9 L164.1,183.0 L164.6,182.1 L165.1,181.2 L165.6,180.4 L166.1,179.5 L166.6,178.7 L167.2,177.8 L167.7,177.0 L168.2,176.1 L168.7,175.2 L169.3,174.4 L169.8,173.5 L170.3,172.7 L170.8,171.8 L171.4,171.0 L171.9,170.1 L172.4,169.2 L172.9,168.4 L173.4,167.5 L173.9,166.7 L174.5,165.8 L175.0,165.0 L175.6,164.2 L176.2,163.4 L176.9,162.6 L177.5,161.9 L178.2,161.1 L178.8,160.4 L179.5,159.6 L180.2,158.9 L180.9,158.2 L181.6,157.5 L182.4,156.8 L183.1,156.2 L183.9,155.6 L184.7,155.0 L185.6,154.4 L186.5,153.9 L187.3,153.5 L188.2,153.0 L189.2,152.6 L190.1,152.2 L191.1,152.0 L192.0,151.8 L193.0,151.6 L194.0,151.5 L195.0,151.4 L196.0,151.3 L197.0,151.3 L198.0,151.4 L199.0,151.5 L200.0,151.7 L201.0,151.8 L202.0,151.8 L203.0,151.8 L204.0,151.8 L205.0,151.8 L206.0,151.8 L207.0,151.7 L208.0,151.7 L209.0,151.7 L210.0,151.6 L211.0,151.6 L212.0,151.6 L213.0,151.5 L214.0,151.5 L215.0,151.5 L216.0,151.5 L217.0,151.4 L218.0,151.4 L219.0,151.4 L220.0,151.4 L221.0,151.3 L222.0,151.3 L223.0,151.3 L224.0,151.2 L225.0,151.2 L226.0,151.2 L227.0,151.1 L228.0,151.0 L229.0,151.0 L230.0,150.9 L231.0,150.7 L232.0,150.6 L233.0,150.4 L234.0,150.3 L235.0,150.1 L235.9,149.9 L236.9,149.8 L237.9,149.7 L238.9,149.4 L239.9,149.3 L240.9,149.2 L241.9,148.9 L242.9,148.7 L243.9,148.6 L244.8,148.4 L245.8,148.1 L246.8,148.0 L247.8,147.8 L248.8,147.7 L249.8,147.2 L250.7,147.2 L251.7,147.3 L252.7,147.3 L253.7,146.6 L254.7,146.9 L255.7,146.5 L256.7,146.4 L257.7,146.3 L258.7,146.2 L259.7,146.4 L260.7,146.2 L261.7,146.0 L262.7,145.8 L263.7,145.8 L264.7,145.7 L265.7,145.8 L266.7,145.5 L267.7,145.6 L268.7,145.5 L269.7,145.4 L270.7,145.4 L271.7,145.4 L272.7,145.5 L273.7,145.2 L274.7,145.5 L275.7,145.1 L276.7,145.0 L277.7,145.1 L278.7,145.1 L279.7,145.1 L280.7,145.3 L281.7,145.3 L282.7,145.2 L283.7,145.1 L284.7,145.1 L285.7,145.5 L286.7,145.3 L287.7,145.1 L288.7,145.2 L289.7,145.3 L290.7,145.7 L291.7,145.5 L292.7,146.0 L293.7,145.7 L294.7,145.7 L295.7,145.6 L296.7,145.8 L297.7,145.7 L298.7,145.6 L299.7,145.8 L300.7,145.8 L301.7,146.0 L302.7,145.9 L303.7,145.4 L304.7,146.1 L305.7,145.7 L306.7,146.4 L307.7,146.5 L308.7,146.2 L309.7,146.2 L310.7,146.2 L311.7,146.7 L312.7,146.6 L313.7,146.6 L314.7,146.8 L315.7,147.3 L316.6,147.1 L317.6,147.3 L318.6,147.4 L319.6,147.6 L320.6,147.7 L321.6,147.6 L322.6,147.8 L323.6,147.8 L324.6,148.0 L325.6,148.5 L326.6,148.3 L327.6,148.5 L328.6,148.5 L329.6,148.7 L330.5,149.0 L331.5,149.0 L332.5,149.1 L333.5,149.3 L334.5,149.5 L335.5,149.6 L336.5,149.7 L337.5,149.7 L338.5,150.0 L339.5,150.2 L340.5,150.3 L341.4,150.4 L342.4,150.7 L343.4,150.8 L344.4,151.1 L345.4,151.3 L346.3,151.5 L347.3,151.7 L348.3,151.9 L349.3,152.2 L350.2,152.4 L351.2,152.6 L352.2,152.9 L353.2,153.1 L354.1,153.4 L355.1,153.6 L356.1,153.9 L357.0,154.2 L358.0,154.4 L359.0,154.7 L359.9,155.0 L360.9,155.3 L361.8,155.6 L362.8,155.9 L363.8,156.1 L364.7,156.4 L365.7,156.7 L366.7,156.9 L367.6,157.1 L368.6,157.4 L369.6,157.6 L370.5,157.8 L371.5,158.1 L372.5,158.3 L373.5,158.5 L374.5,158.7 L375.4,158.9 L376.4,159.1 L377.4,159.3 L378.4,159.5 L379.4,159.7 L380.3,160.0 L381.3,160.2 L382.3,160.4 L383.3,160.5 L384.3,160.7 L385.2,160.9 L386.2,161.1 L387.2,161.3 L388.2,161.5 L389.2,161.7 L390.2,161.9 L391.1,162.1 L392.1,162.3 L393.1,162.5 L394.1,162.7 L395.1,162.9 L396.0,163.1 L397.0,163.4 L398.0,163.6 L399.0,163.8 L399.9,164.1 L400.9,164.3 L401.9,164.6 L402.8,164.8 L403.8,165.0 L404.8,165.3 L405.8,165.5 L406.7,165.8 L407.7,166.0 L408.7,166.3 L409.6,166.5 L410.6,166.7 L411.6,167.0 L412.6,167.2 L413.5,167.4 L414.5,167.7 L415.5,167.9 L416.5,168.1 L417.4,168.4 L418.4,168.6 L419.4,168.8 L420.4,169.0 L421.3,169.3 L422.3,169.5 L423.3,169.7 L424.3,169.9 L425.2,170.1 L426.2,170.3 L427.2,170.5 L428.2,170.7 L429.2,170.9 L430.2,171.1 L431.1,171.2 L432.1,171.4 L433.1,171.6 L434.1,171.8 L435.1,171.9 L436.1,172.1 L437.1,172.3 L438.0,172.5 L439.0,172.6 L440.0,172.8 L441.0,173.0 L442.0,173.1 L443.0,173.3 L444.0,173.5 L444.9,173.7 L445.9,173.8 L446.9,174.0 L447.9,174.2 L448.9,174.4 L449.9,174.5 L450.9,174.7 L451.9,174.9 L452.8,175.0 L453.8,175.2 L454.8,175.4 L455.8,175.5 L456.8,175.7 L457.8,175.8 L458.8,176.0 L459.8,176.1 L460.8,176.3 L461.7,176.4 L462.7,176.6 L463.7,176.7 L464.7,176.9 L465.7,177.0 L466.7,177.2 L467.7,177.3 L468.7,177.5 L469.7,177.6 L470.7,177.7 L471.7,177.9 L472.6,178.0 L473.6,178.1 L474.6,178.2 L475.6,178.4 L476.6,178.5 L477.6,178.6 L478.6,178.8 L479.6,178.9 L480.6,179.0 L481.6,179.2 L482.6,179.3 L483.6,179.5 L484.6,179.6 L485.5,179.7 L486.5,179.9 L487.5,180.0 L488.5,180.2 L489.5,180.3 L490.5,180.5 L491.5,180.6 L492.5,180.8 L493.5,181.0 L494.4,181.1 L495.4,181.4 L496.4,181.6 L497.4,181.8 L498.3,182.0 L499.3,182.3 L500.3,182.5 L501.3,182.6 L502.3,182.8 L503.3,183.0 L504.2,183.1 L505.2,183.3 L506.2,183.5 L507.2,183.6 L508.2,183.8 L509.2,183.9 L510.2,184.1 L511.2,184.2 L512.2,184.4 L513.1,184.6 L514.1,184.7 L515.1,184.9 L516.1,185.1 L517.1,185.2 L518.1,185.4 L519.1,185.6 L520.0,185.8 L521.0,186.0 L522.0,186.1 L523.0,186.3 L524.0,186.5 L525.0,186.7 L526.0,186.8 L526.9,187.0 L527.9,187.2 L528.9,187.3 L529.9,187.5 L530.9,187.7 L531.9,187.8 L532.9,188.0 L533.9,188.2 L534.8,188.4 L535.8,188.5 L536.8,188.7 L537.8,188.8 L538.8,189.0 L539.8,189.2 L540.8,189.3 L541.8,189.5 L542.7,189.6 L543.7,189.8 L544.7,190.0 L545.7,190.1 L546.7,190.3 L547.7,190.4 L548.7,190.6 L549.7,190.7 L550.7,190.9 L551.7,191.0 L552.6,191.2 L553.6,191.3 L554.6,191.5 L555.6,191.6 L556.6,191.7 L557.6,191.9 L558.6,192.0 L559.6,192.1 L560.6,192.3 L561.6,192.4 L562.6,192.5 L563.6,192.7 L564.5,192.8 L565.5,192.9 L566.5,193.1 L567.5,193.2 L568.5,193.4 L569.5,193.5 L570.5,193.7 L571.5,193.8 L572.5,194.0 L573.5,194.1 L574.4,194.3 L575.4,194.4 L576.4,194.6 L577.4,194.7 L578.4,194.9 L579.4,195.1 L580.4,195.2 L581.4,195.4 L582.4,195.5 L583.3,195.7 L584.3,195.9 L585.3,196.0 L586.3,196.2 L587.3,196.3 L588.3,196.5 L589.3,196.7 L590.3,196.9 L591.2,197.0 L592.2,197.2 L593.2,197.4 L594.2,197.6 L595.2,197.8 L596.2,198.0 L597.1,198.2 L598.1,198.4 L599.1,198.6 L600.1,198.8 L601.1,199.0 L602.0,199.2 L603.0,199.4 L604.0,199.6 L605.0,199.7 L606.0,199.9 L607.0,200.1 L607.9,200.3 L608.9,200.5 L609.9,200.7 L610.9,200.9 L611.9,201.0 L612.9,201.2 L613.8,201.4 L614.8,201.6 L615.8,201.7 L616.8,201.9 L617.8,202.1 L618.8,202.3 L619.8,202.4 L620.8,202.6 L621.7,202.8 L622.7,202.9 L623.7,203.1 L624.7,203.3 L625.7,203.4 L626.7,203.6 L627.7,203.8 L628.7,203.9 L629.6,204.1 L630.6,204.2 L631.6,204.4 L632.6,204.5 L633.6,204.7 L634.6,204.8 L635.6,204.9 L636.6,205.1 L637.6,205.2 L638.6,205.4 L639.5,205.5 L640.5,205.7 L641.5,205.8 L642.5,205.9 L643.5,206.1 L644.5,206.2 L645.5,206.3 L646.5,206.5 L647.5,206.6 L648.5,206.8 L649.5,206.9 L650.4,207.2 L651.4,207.4 L652.4,207.6 L653.3,207.9 L654.3,208.2 L655.3,208.4 L656.2,208.7 L657.2,209.0 L658.2,209.3 L659.1,209.5 L660.1,209.8 L661.0,210.1 L662.0,210.4 L663.0,210.7 L663.9,211.0 L664.9,211.3 L665.8,211.6 L666.8,211.9 L667.7,212.2 L668.7,212.5 L669.7,212.7 L670.6,213.0 L671.6,213.2 L672.6,213.5 L673.6,213.7 L674.5,213.9 L675.5,214.1 L676.5,214.3 L677.5,214.6 L678.4,214.8 L679.4,215.0 L680.4,215.2 L681.4,215.4 L682.4,215.6 L683.3,215.8 L684.3,216.0 L685.3,216.2 L686.3,216.4 L687.3,216.6 L688.2,216.8 L689.2,217.0 L690.2,217.2 L691.2,217.4 L692.2,217.6 L693.2,217.8 L694.1,218.0 L695.1,218.2 L696.1,218.4 L697.1,218.5 L698.1,218.7 L699.1,218.9 L700.0,219.1 L701.0,219.3 L702.0,219.5" stroke="#c080ff"/>
<path d="M317.0,147.5 L321.4,147.5 L319.6,154.6 L318.8,154.6 Z" fill="#c080ff" stroke="none"/>
<path d="M301.1,146.0 L303.5,146.0 L302.7,142.3 L301.9,142.3 Z" fill="#c080ff" stroke="none"/>
</g>
<g stroke="#000" stroke-width="1.2" fill="none">
<rect x="89.4" y="24.8" width="609.9" height="431.9"/>
<path d="M89.4,24.80 h6.5 M699.3,24.80 h-6.5"/>
<path d="M89.4,111.18 h6.5 M699.3,111.18 h-6.5"/>
<path d="M89.4,197.56 h6.5 M699.3,197.56 h-6.5"/>
<path d="M89.4,283.94 h6.5 M699.3,283.94 h-6.5"/>
<path d="M89.4,370.32 h6.5 M699.3,370.32 h-6.5"/>
<path d="M89.4,456.70 h6.5 M699.3,456.70 h-6.5"/>
<path d="M89.40,456.7 v-6.5 M89.40,24.8 v6.5"/>
<path d="M211.38,456.7 v-6.5 M211.38,24.8 v6.5"/>
<path d="M333.36,456.7 v-6.5 M333.36,24.8 v6.5"/>
<path d="M455.34,456.7 v-6.5 M455.34,24.8 v6.5"/>
<path d="M577.32,456.7 v-6.5 M577.32,24.8 v6.5"/>
<path d="M699.30,456.7 v-6.5 M699.30,24.8 v6.5"/>
</g>
<g font-family="'Liberation Sans', sans-serif" font-size="20.7" fill="#000">
<text x="76.7" y="31.6" text-anchor="end">-19</text>
<text x="76.7" y="118.0" text-anchor="end">-18</text>
<text x="76.7" y="204.4" text-anchor="end">-17</text>
<text x="76.7" y="290.7" text-anchor="end">-16</text>
<text x="76.7" y="377.1" text-anchor="end">-15</text>
<text x="76.7" y="463.5" text-anchor="end">-14</text>
<text x="92.0" y="484.6" text-anchor="middle">0</text>
<text x="214.0" y="484.6" text-anchor="middle">10</text>
<text x="336.0" y="484.6" text-anchor="middle">20</text>
<text x="457.9" y="484.6" text-anchor="middle">30</text>
<text x="579.9" y="484.6" text-anchor="middle">40</text>
<text x="701.9" y="484.6" text-anchor="middle">50</text>
<text x="394" y="514.9" text-anchor="middle">time after explosion (days)</text>
<text transform="translate(25.2,241) rotate(-90)" text-anchor="middle">absolute magnitude</text>
<text x="126.2" y="75.6">g band</text>
<text x="395.5" y="77.2">14 <tspan dx="-1.5">M</tspan></text>
<text x="452.6" y="77.2">, 10<tspan font-size="16.6" dx="-0.4" dy="-10.3">51</tspan><tspan dx="0.5" dy="10.3"> erg, 10</tspan><tspan font-size="16.6" dx="0.9" dy="-10.3">15</tspan><tspan dx="-0.7" dy="10.3"> cm</tspan></text>
<text x="395.5" y="117.8">10<tspan font-size="16.6" dx="-0.7" dy="-10.3">-3</tspan><tspan dx="-0.8" dy="10.3"> M</tspan></text>
<text x="473.5" y="117.8">yr<tspan font-size="16.6" dx="-1" dy="-10.3">-1</tspan><tspan dy="10.3">, v</tspan><tspan font-size="18.8" dy="7.0">&#8734;</tspan><tspan dx="-0.4" dy="-7.0"> = 10 km s</tspan><tspan font-size="16.6" dx="-1" dy="-10.3">-1</tspan></text>
<text x="605.2" y="343.0" text-anchor="end">no CSM</text>
<text x="605.2" y="363.8" text-anchor="end"><tspan font-family="'Liberation Serif', serif">&#946;</tspan> = 1</text>
<text x="605.2" y="384.5" text-anchor="end">1.75</text>
<text x="605.2" y="405.3" text-anchor="end">2.5</text>
<text x="605.2" y="426.0" text-anchor="end">3.75</text>
<text x="605.2" y="446.8" text-anchor="end">5</text>
</g>
<circle cx="446.7" cy="73.0" r="5.2" fill="none" stroke="#222" stroke-width="0.8"/>
<circle cx="446.7" cy="73.0" r="1.1" fill="#111"/>
<circle cx="460.9" cy="113.6" r="5.2" fill="none" stroke="#222" stroke-width="0.8"/>
<circle cx="460.9" cy="113.6" r="1.1" fill="#111"/>
<path d="M617.7,335.7 H674.6" stroke="#000000" stroke-width="4.2" fill="none"/>
<path d="M617.7,356.5 H674.6" stroke="#00c000" stroke-width="4.2" fill="none"/>
<path d="M617.7,377.2 H674.6" stroke="#0000ff" stroke-width="4.2" fill="none"/>
<path d="M617.7,398.0 H674.6" stroke="#ff0000" stroke-width="4.2" fill="none"/>
<path d="M617.7,418.7 H674.6" stroke="#ffa500" stroke-width="4.2" fill="none"/>
<path d="M617.7,439.5 H674.6" stroke="#c080ff" stroke-width="4.2" fill="none"/>
</svg>
</body></html>
